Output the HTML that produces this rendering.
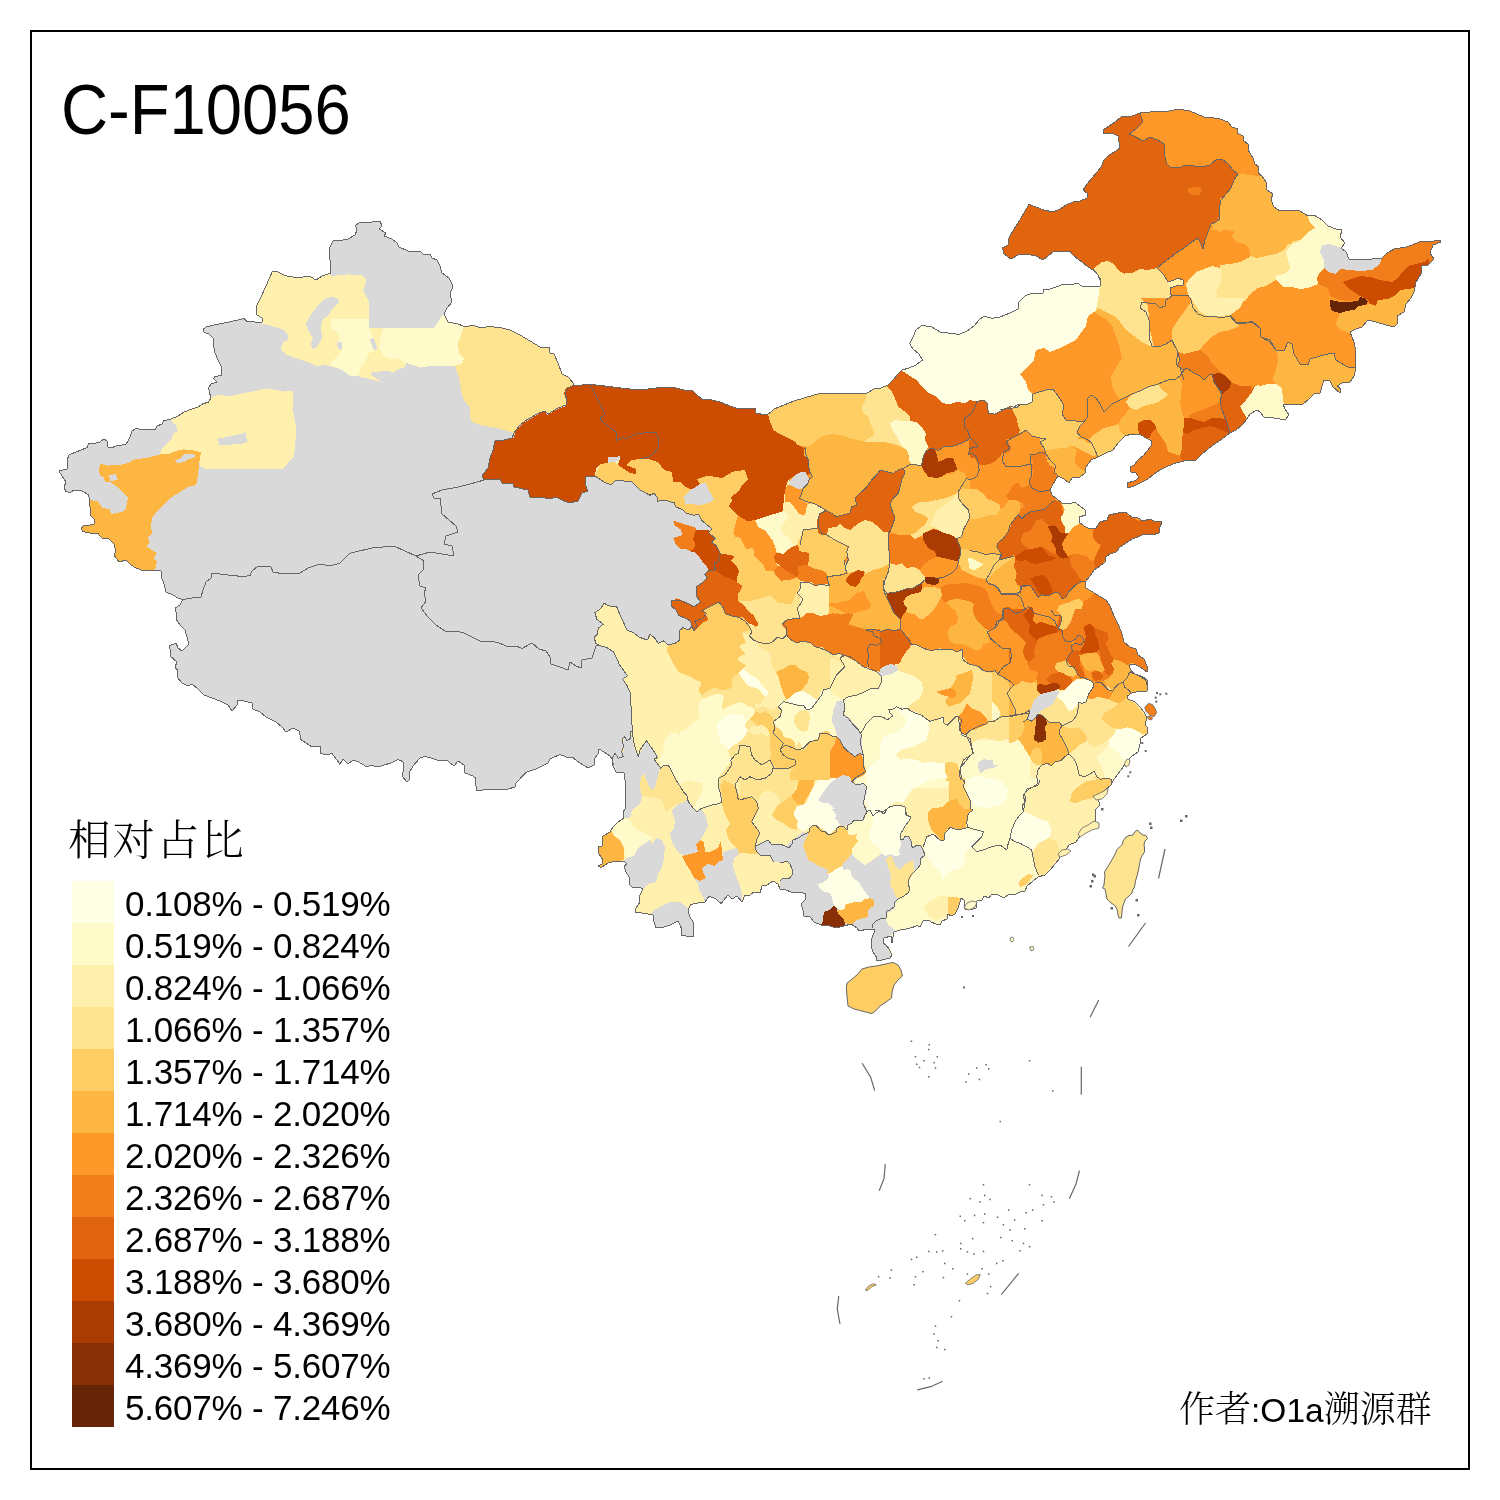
<!DOCTYPE html>
<html lang="zh-CN">
<head>
<meta charset="utf-8">
<title>C-F10056</title>
<style>
html,body{margin:0;padding:0;background:#fff;}
body{width:1500px;height:1500px;overflow:hidden;position:relative;font-family:"Liberation Sans","Noto Sans CJK SC",sans-serif;color:#000;}
#frame{position:absolute;left:30px;top:30px;width:1436px;height:1436px;border:2px solid #000;}
#map{position:absolute;left:0;top:0;width:1500px;height:1500px;}
#title{position:absolute;left:61px;top:70px;font-size:71px;line-height:80px;white-space:nowrap;transform:scaleX(0.918);transform-origin:0 0;}
#legend-title{position:absolute;left:68px;top:814px;font-family:"Liberation Serif","Noto Serif CJK SC",serif;font-size:42.5px;line-height:54px;white-space:nowrap;font-weight:300;letter-spacing:1.9px;}
.sw{position:absolute;left:72px;width:42px;height:42px;}
.lb{position:absolute;left:125px;font-size:35px;line-height:42px;height:42px;white-space:nowrap;letter-spacing:-0.2px;}
#credit{position:absolute;left:1179px;top:1386px;font-size:33.5px;line-height:48px;white-space:nowrap;}
#credit .cj{font-family:"Liberation Serif","Noto Serif CJK SC",serif;font-size:36px;font-weight:300;}
</style>
</head>
<body>
<svg id="map" width="1500" height="1500" viewBox="0 0 1500 1500">
<defs><clipPath id="cn"><polygon points="59,471 62,476 66,482 64,487 65.6,491 70,493 73,490.6 82,491 88,494.4 89.6,499 89,504 91,510 90,515 95,520 94,524.4 83,526 81,529 83,531.6 90,533 98,533.6 102,538 109,539 114,544 116,551 114,555 119,562 126,560 131,565 136,568 144,571 154,570.6 161,570.6 161,576 164,584 166,592 173,595 178,598 183,599.6 180,605 175,608 176.6,614 176,619 180,625 185,630 187,637 189,644 182,651 178,648 176,643 169,646 171,652 170,656 177,662 175,667 178,671 177,677 182,683 188,686 192,684 198,689 204,695 212,698 220,701 228,705 232,711 237,705 238,700 244,701 252,703 253,709 260,712 266,717 276,722 282,727 286,732 293,728 299,731 301,739 300,739 306,743 312,747 320,746 320,753 326,755 332,753.6 337,760 340,764.4 343,759 348,764 353,760 358,761.6 366,766.4 372,765.6 378,767 384,765 391,763 398,759.6 403,761.6 404,768 402,776 407,782 410,779 409.6,772 413,766 420,758 425,756.4 432,758.4 440,761 447,760.4 454,766 458,761 464,765 465,773 472,775.6 476,778 475.6,784 477,791 486,789.6 496,790 506,789.6 515,787 516,783 526,772.4 536,769 548,763 550,759 560,754.4 566,757 572,757 580,763 588,768 594,765 595,758 598,754 599,749 604,752 610,756 613,760 612,764 616,772 624,773 625.6,784 626,798 625,809 623,812 624,818 618,822 613,827 610,832 603,836 602,846 598,847 599,854 603,860 602,864 598.6,866 601,867.6 608,863 616,861 624,861 627,864 624,866 626,872 629,877 629,884 632,887 639,887 643,889 639,897 640,902 636,908 635,912 646,913.6 653,915 654,922 656,928 664,927 670,925 678,921 680,925 682,930 681,935 686,936 693,937 694,930 693,922 690,917 688,910 691,904.4 698,903 705,902 709,896 716,899 721,903.6 728,895 732,899 737,896 742,902 745,895 750,895 754,892 760,893 762,886 767,885 773,881 778,884 780,889 786,890 792,892.4 800,892 806,894 805,900 801,904 803,910 804,916 810,917 814,922 821,925 830,926 836,928 844,926 851,924 857,928 859,931 868,929 875,930 872,938 871,946 873,952 877,958 876,961 882,960 890,958 892,955 889,949 886,945 883,943 884,938 891,936 892,943 894,932 900,930 906,929 912,927.6 917,925.6 920,927 923,921 928,920 932,922.4 936,924 940,925 942,921 947,919 948,914 951,916 955,914 958,908 960,902 961,898 964,900 965,909 970,910 976,908 977,901 982,900 984,896 989,898 992,894 998,895 1004,898 1009,894 1014,895 1020,892 1025,891 1027,886 1033,881 1038,877 1045,875 1050,870 1055,864 1060,858 1059,853 1066,850 1069,845 1076,842 1080,836 1086,832 1088,828 1095,825 1096,819 1095,810 1100,805 1098,799 1094,797 1102,794 1106,789 1111,785 1114,779 1118,774 1123,767 1128,760 1132,756 1138,752 1140,744 1141,738 1147,734 1148,729 1145,724 1147,718 1144,712 1140,707 1135,702 1128,699 1127,696 1132,693 1140,691 1147,691 1148,685 1147,680 1143,677 1138,675 1132,673 1129,665 1134,664 1140,667 1147,672 1147,666 1144,659 1138,655 1136,649 1130,647 1124,642 1122,634 1119,626 1114,616 1110,606 1106,600 1096,594 1086,588 1085,582 1090,576 1094,570 1100,566 1105,562 1106,557 1110,554 1116,552 1120,547 1126,543 1132,539 1138,537 1144,534 1152,535 1159,533 1160,527 1162,522 1154,521 1150,519 1143,521 1138,518 1132,517 1125,512 1118,513 1109,515 1107,520 1100,522 1096,528 1090,529 1084,526 1079,522 1079,517 1086,515 1085,510 1080,506 1075,502.4 1068,504 1062,503 1057,499 1052,495 1050,490 1053,484 1058,476 1064,479 1069,483 1072,478 1080,477 1085,473 1086,467 1091,460 1098,457 1106,453 1113,450 1118,443 1125,436 1132,434 1140,434.4 1146,438 1152,441 1151,446 1147,451 1144,455 1138,460 1134,465 1130,467 1131,472 1136,473 1139,478 1134,481 1127,483 1128,488 1134,486 1142,482 1148,479 1154,474 1160,470 1168,466 1176,463 1184,461 1196,460 1202,454 1208,449 1216,443 1222,439 1230,433 1236,430 1242,425 1247,419 1250,414 1257,410 1260,412 1264,417 1272,417.6 1280,419 1285,420 1289,415 1285,409 1283,404 1292,404 1303,404 1309,399 1314,394 1320,393 1324,380 1330,381 1333,387 1340,393 1341,389 1337,386 1342,383 1350,382 1354,376 1356,368 1355,360 1356,352 1354,342 1350,332 1356,329 1362,327 1368,320 1376,322 1386,325 1394,327 1397,324 1397,316 1404,312 1406,304 1411,298 1414,292 1416,282 1421,274 1422,266 1428,265 1434,259 1430,253 1433,245 1441,242 1440,240 1430,241.6 1420,241.6 1412,245 1404,247.6 1395,248.6 1387,253 1382,258 1372,259 1362,259.6 1349,259 1346,252 1341,248 1345,243 1340,237 1342,230 1336,229 1328,226 1322,220 1314,215 1308,216 1300,211 1290,210 1280,211 1274,207 1273,205 1271,199 1273,194 1267,190 1266,182 1262,176 1258,173 1259,167 1255,164 1253,158 1248,150 1248,144 1244,141 1243,136 1237,133 1238,129 1232,127 1228,122 1220,119 1212,117.6 1204,117 1197,114 1190,111 1182,109.6 1174,110 1166,111.6 1158,111 1150,112 1140,113 1132,116 1121,117 1115,122 1109,126 1103.6,129.6 1104,134 1112,133 1118,136 1119,142 1120,148 1116,151 1109,155 1104,160 1101,167 1097,172 1092,178 1087,184 1083,190 1087,193 1087,198 1080,201 1073,202 1066,205 1060,209 1053,212 1044,210 1036,207 1029,204.4 1025,211 1020,220 1014,229 1009,238 1008,245 1002.4,248 1004,254 1011,259 1018,255 1026,254 1036,256 1043,260 1048,256 1054,251 1062,251 1070,251.6 1074,256 1082,262 1088,267 1093,270 1098,275 1100,280 1100,286 1088,287 1082,286 1077,283 1071,285 1064,284 1056,287 1050,289 1044,289 1043,293 1032,293 1025,296 1019,302 1018,309 1010,313 1000,317 992,318.4 984,316 979,320 974,326 967,331 959,334.4 948,333 940,332 932,327 922,325.4 916,330 913,337 909.6,343.6 913,349 919,354 922.4,360 916,365 909,368 902,370 898,374 893,380 888,385 881,388 874,389 867,393 859,394 846,393.6 834,393.6 820,393.4 814,395 804,398 794,401 784,405 774,409 769,413.6 765,415 756,413 755.6,408 750,408 739,409 730,406 720,402 712,400 702,399 698,396 693,391 684,390 674,387.6 660,387.6 648,389 636,389.6 624,388.4 608,386.4 590,384.4 574,385.6 572.4,382 568,377 562,374 558,363 554,354 549.6,353 550,347 540,347 530,341 520,335 510,330 500,327.6 490,326.6 480,327.6 474,325.6 464,326.4 458,324 448,322 444,314 447,308 452,302 450,294 453,286 449,278 442,273 440,266 437,260 432,258 430,254 424,255 420,251 414,251 408,251 399,247 397,243 392,239 384,236 386,233 379,229 382,226 380,221 372,222 360,222 355.6,225.6 357,230 355,235 347,239.6 333,241 329,249 330,260 331,273 322,276 316,280 310,276.4 296,277.6 285,275.6 278,272 272.4,271.4 266,286 260,299 257,305 256,314.4 262,318 263,321 261,323 255,322 247,321.4 244,318.4 238,320 227,322.4 214,325 206,327 203,329.6 203.6,332 209,334 213,338 213.6,346 215,353 218,360 221,366 222,375 215,376.6 213.6,378.6 217,382 211,384 208.6,388 209.6,393 211,398 208,402.4 203,403.6 198,407 192,409 184,412 178,416 170,419.4 164,420.6 162,424 157,426 155,429.6 148,430 142,429.4 136,428.6 132,431 130,437 126,444.4 122,445 117,445.6 111,448 108,447 107,441 104,439 100,442 93,443.6 89,443 87,447.6 81,450 75,452.4 69,455 67,460 68,464 67,469"/></clipPath></defs>
<polygon points="59,471 62,476 66,482 64,487 65.6,491 70,493 73,490.6 82,491 88,494.4 89.6,499 89,504 91,510 90,515 95,520 94,524.4 83,526 81,529 83,531.6 90,533 98,533.6 102,538 109,539 114,544 116,551 114,555 119,562 126,560 131,565 136,568 144,571 154,570.6 161,570.6 161,576 164,584 166,592 173,595 178,598 183,599.6 180,605 175,608 176.6,614 176,619 180,625 185,630 187,637 189,644 182,651 178,648 176,643 169,646 171,652 170,656 177,662 175,667 178,671 177,677 182,683 188,686 192,684 198,689 204,695 212,698 220,701 228,705 232,711 237,705 238,700 244,701 252,703 253,709 260,712 266,717 276,722 282,727 286,732 293,728 299,731 301,739 300,739 306,743 312,747 320,746 320,753 326,755 332,753.6 337,760 340,764.4 343,759 348,764 353,760 358,761.6 366,766.4 372,765.6 378,767 384,765 391,763 398,759.6 403,761.6 404,768 402,776 407,782 410,779 409.6,772 413,766 420,758 425,756.4 432,758.4 440,761 447,760.4 454,766 458,761 464,765 465,773 472,775.6 476,778 475.6,784 477,791 486,789.6 496,790 506,789.6 515,787 516,783 526,772.4 536,769 548,763 550,759 560,754.4 566,757 572,757 580,763 588,768 594,765 595,758 598,754 599,749 604,752 610,756 613,760 612,764 616,772 624,773 625.6,784 626,798 625,809 623,812 624,818 618,822 613,827 610,832 603,836 602,846 598,847 599,854 603,860 602,864 598.6,866 601,867.6 608,863 616,861 624,861 627,864 624,866 626,872 629,877 629,884 632,887 639,887 643,889 639,897 640,902 636,908 635,912 646,913.6 653,915 654,922 656,928 664,927 670,925 678,921 680,925 682,930 681,935 686,936 693,937 694,930 693,922 690,917 688,910 691,904.4 698,903 705,902 709,896 716,899 721,903.6 728,895 732,899 737,896 742,902 745,895 750,895 754,892 760,893 762,886 767,885 773,881 778,884 780,889 786,890 792,892.4 800,892 806,894 805,900 801,904 803,910 804,916 810,917 814,922 821,925 830,926 836,928 844,926 851,924 857,928 859,931 868,929 875,930 872,938 871,946 873,952 877,958 876,961 882,960 890,958 892,955 889,949 886,945 883,943 884,938 891,936 892,943 894,932 900,930 906,929 912,927.6 917,925.6 920,927 923,921 928,920 932,922.4 936,924 940,925 942,921 947,919 948,914 951,916 955,914 958,908 960,902 961,898 964,900 965,909 970,910 976,908 977,901 982,900 984,896 989,898 992,894 998,895 1004,898 1009,894 1014,895 1020,892 1025,891 1027,886 1033,881 1038,877 1045,875 1050,870 1055,864 1060,858 1059,853 1066,850 1069,845 1076,842 1080,836 1086,832 1088,828 1095,825 1096,819 1095,810 1100,805 1098,799 1094,797 1102,794 1106,789 1111,785 1114,779 1118,774 1123,767 1128,760 1132,756 1138,752 1140,744 1141,738 1147,734 1148,729 1145,724 1147,718 1144,712 1140,707 1135,702 1128,699 1127,696 1132,693 1140,691 1147,691 1148,685 1147,680 1143,677 1138,675 1132,673 1129,665 1134,664 1140,667 1147,672 1147,666 1144,659 1138,655 1136,649 1130,647 1124,642 1122,634 1119,626 1114,616 1110,606 1106,600 1096,594 1086,588 1085,582 1090,576 1094,570 1100,566 1105,562 1106,557 1110,554 1116,552 1120,547 1126,543 1132,539 1138,537 1144,534 1152,535 1159,533 1160,527 1162,522 1154,521 1150,519 1143,521 1138,518 1132,517 1125,512 1118,513 1109,515 1107,520 1100,522 1096,528 1090,529 1084,526 1079,522 1079,517 1086,515 1085,510 1080,506 1075,502.4 1068,504 1062,503 1057,499 1052,495 1050,490 1053,484 1058,476 1064,479 1069,483 1072,478 1080,477 1085,473 1086,467 1091,460 1098,457 1106,453 1113,450 1118,443 1125,436 1132,434 1140,434.4 1146,438 1152,441 1151,446 1147,451 1144,455 1138,460 1134,465 1130,467 1131,472 1136,473 1139,478 1134,481 1127,483 1128,488 1134,486 1142,482 1148,479 1154,474 1160,470 1168,466 1176,463 1184,461 1196,460 1202,454 1208,449 1216,443 1222,439 1230,433 1236,430 1242,425 1247,419 1250,414 1257,410 1260,412 1264,417 1272,417.6 1280,419 1285,420 1289,415 1285,409 1283,404 1292,404 1303,404 1309,399 1314,394 1320,393 1324,380 1330,381 1333,387 1340,393 1341,389 1337,386 1342,383 1350,382 1354,376 1356,368 1355,360 1356,352 1354,342 1350,332 1356,329 1362,327 1368,320 1376,322 1386,325 1394,327 1397,324 1397,316 1404,312 1406,304 1411,298 1414,292 1416,282 1421,274 1422,266 1428,265 1434,259 1430,253 1433,245 1441,242 1440,240 1430,241.6 1420,241.6 1412,245 1404,247.6 1395,248.6 1387,253 1382,258 1372,259 1362,259.6 1349,259 1346,252 1341,248 1345,243 1340,237 1342,230 1336,229 1328,226 1322,220 1314,215 1308,216 1300,211 1290,210 1280,211 1274,207 1273,205 1271,199 1273,194 1267,190 1266,182 1262,176 1258,173 1259,167 1255,164 1253,158 1248,150 1248,144 1244,141 1243,136 1237,133 1238,129 1232,127 1228,122 1220,119 1212,117.6 1204,117 1197,114 1190,111 1182,109.6 1174,110 1166,111.6 1158,111 1150,112 1140,113 1132,116 1121,117 1115,122 1109,126 1103.6,129.6 1104,134 1112,133 1118,136 1119,142 1120,148 1116,151 1109,155 1104,160 1101,167 1097,172 1092,178 1087,184 1083,190 1087,193 1087,198 1080,201 1073,202 1066,205 1060,209 1053,212 1044,210 1036,207 1029,204.4 1025,211 1020,220 1014,229 1009,238 1008,245 1002.4,248 1004,254 1011,259 1018,255 1026,254 1036,256 1043,260 1048,256 1054,251 1062,251 1070,251.6 1074,256 1082,262 1088,267 1093,270 1098,275 1100,280 1100,286 1088,287 1082,286 1077,283 1071,285 1064,284 1056,287 1050,289 1044,289 1043,293 1032,293 1025,296 1019,302 1018,309 1010,313 1000,317 992,318.4 984,316 979,320 974,326 967,331 959,334.4 948,333 940,332 932,327 922,325.4 916,330 913,337 909.6,343.6 913,349 919,354 922.4,360 916,365 909,368 902,370 898,374 893,380 888,385 881,388 874,389 867,393 859,394 846,393.6 834,393.6 820,393.4 814,395 804,398 794,401 784,405 774,409 769,413.6 765,415 756,413 755.6,408 750,408 739,409 730,406 720,402 712,400 702,399 698,396 693,391 684,390 674,387.6 660,387.6 648,389 636,389.6 624,388.4 608,386.4 590,384.4 574,385.6 572.4,382 568,377 562,374 558,363 554,354 549.6,353 550,347 540,347 530,341 520,335 510,330 500,327.6 490,326.6 480,327.6 474,325.6 464,326.4 458,324 448,322 444,314 447,308 452,302 450,294 453,286 449,278 442,273 440,266 437,260 432,258 430,254 424,255 420,251 414,251 408,251 399,247 397,243 392,239 384,236 386,233 379,229 382,226 380,221 372,222 360,222 355.6,225.6 357,230 355,235 347,239.6 333,241 329,249 330,260 331,273 322,276 316,280 310,276.4 296,277.6 285,275.6 278,272 272.4,271.4 266,286 260,299 257,305 256,314.4 262,318 263,321 261,323 255,322 247,321.4 244,318.4 238,320 227,322.4 214,325 206,327 203,329.6 203.6,332 209,334 213,338 213.6,346 215,353 218,360 221,366 222,375 215,376.6 213.6,378.6 217,382 211,384 208.6,388 209.6,393 211,398 208,402.4 203,403.6 198,407 192,409 184,412 178,416 170,419.4 164,420.6 162,424 157,426 155,429.6 148,430 142,429.4 136,428.6 132,431 130,437 126,444.4 122,445 117,445.6 111,448 108,447 107,441 104,439 100,442 93,443.6 89,443 87,447.6 81,450 75,452.4 69,455 67,460 68,464 67,469" fill="#D9D9D9"/>
<g clip-path="url(#cn)" shape-rendering="crispEdges">
<polygon points="595,476 604,482 611,485 616,480 624,481 632,482 640,490 650,495.3 654,493.3 657.3,497.3 657.3,501.3 664.7,500 671.3,502 674.7,502.7 675.3,506.7 683.3,510 686,513.3 694,515.3 698.7,514 701.3,520 706,524 712,528.7 708.7,532.7 715.3,538.7 711.3,542 716.7,546 719.3,552 720.7,554 718.7,556.7 719.3,560.7 714,563.3 715.3,570 708.7,570.7 704.7,574 707.3,578 702,583.3 696.7,586 696.7,596.7 700.7,602 694,606.7 687.3,603.3 678,600 671.3,600.7 671.3,606 676,610 678.7,615.3 684.7,618 690,620.7 694,630.7 695,630.8 691.7,626.7 688.3,630 683.3,627.5 679.2,630.8 680,640 675,643.3 668.3,645 663.3,640.8 658.3,643.3 654.2,637.5 650,634.2 647.5,640 640,637.5 633.3,632.5 626.7,630 623.3,621.7 620,615 616.7,606.7 608.3,605.8 604.2,603.3 600,609.2 595,612.5 596.7,619.2 603.3,624.2 598.3,628.3 597.5,634.2 594.2,637.5 595.8,643.3 600,645.8 606.7,647.5 613.3,651.7 616.7,658.3 619.2,664.2 623.3,670 627.5,675.8 622.5,679.2 626.7,685 630,691.7 630,700 631.7,710 631.7,720 632.5,731.7 630,731.7 630.8,738.3 626.7,740.8 625,736.7 622.5,738.3 623.3,746.7 621.7,751.7 623.3,756.7 618.3,758.3 615,753.3 612.5,758.3 613.3,765 560,780 560,1100 1500,1100 1500,50 900,50 900,380 760,400 700,420 600,440" fill="#FFF0AE"/>
<polygon points="780,380 900,300 1000,200 1100,80 1500,80 1500,560 1160,560 1160,660 1100,690 1000,680 950,660 900,640 850,630 820,600 800,520 780,450" fill="#FE9929"/>
<polygon points="695,630.8 691.7,626.7 688.3,630 683.3,627.5 679.2,630.8 680,640 675,643.3 668.3,645 663.3,640.8 658.3,643.3 654.2,637.5 650,634.2 647.5,640 640,637.5 633.3,632.5 626.7,630 623.3,621.7 620,615 616.7,606.7 608.3,605.8 604.2,603.3 600,609.2 595,612.5 596.7,619.2 603.3,624.2 598.3,628.3 597.5,634.2 594.2,637.5 595.8,643.3 600,645.8 606.7,647.5 613.3,651.7 616.7,658.3 619.2,664.2 623.3,670 627.5,675.8 622.5,679.2 626.7,685 630,691.7 630,700 631.7,710 631.7,720 632.5,731.7 633.3,740 635,746.7 638.3,756.7 640,750 643.3,745 646.7,740.8 650,745.8 654.2,751.7 657.5,757.5 654.2,759.2 658.3,765 660.8,768.3 663.3,765.8 668.3,765 671.7,771.7 675,778.3 679.2,785 683.3,791.7 686.7,795 688.3,801.7 693.3,808.3 696.7,811.7 701.7,808.3 706.7,806.7 711.7,805 716.7,804.2 721.7,802.5 733.3,800 750,783.3 766.7,750 775,700 766.7,650 733.3,633.3" fill="#FFF0AE"/>
<polygon points="902,370 910,374 918,380 924,388 930,392 938,398 946,404 952,402 960,403 968,404 970,400 980,398 988,402 989,412 996,414 1006,408 1010,406 1016,412 1022,406 1030,404 1032,398 1034,392 1044,390 1050,390 1050,280 990,300 910,320" fill="#FFFFE5"/>
<polygon points="252,312 262,323.6 270,325.6 282,329 288,334 288,340 283,342 281,349 285,354 295,358 308,362 317,366.4 324,365 334,367 342,370 350,375.6 357,376 370,379 382,382.4 370,374 372,372 388,371 394,373 396,370 405,367 406,363 396,358 390,359 384,356 379,348 380,340 383,328 369,328 369,319 369,302 363,290 365,286 366,280 362,275 348,274.4 331,276 328,268 272,266" fill="#FFF0AE"/>
<polygon points="331,319 369,319 369,328 373,338 375,344 377,350 369,353 366,360 361,366 359,374 357,376 350,375.6 342,370 330,365 333,360 339,354 342,350 342,343 337,343 340,338 336,331 331,328" fill="#FFFACA"/>
<polygon points="383,328 434,327.6 438,322 443,314 448,321 458,323 465,326 460,338 458,344 459,354 464,359 462,364 455,365.6 432,365.6 420,367.6 406,363 396,358 390,359 384,356 379,348 380,340" fill="#FFFACA"/>
<polygon points="310,316 316,308 323,300 330,297 338,298 339,303 332,309 329,315 322,320 321,328 322,338 317,347 312,349 311,343 313,338 308,330 306,324" fill="#D9D9D9"/>
<polygon points="370,339 374,338 377,348 375,351 372,346" fill="#D9D9D9"/>
<polygon points="337,342.4 342,342.4 342,349.6 338,349" fill="#D9D9D9"/>
<polygon points="464,327 474,320 490,322 510,326 530,337 552,343 562,360 566,374 576,384 573,385.6 566,390 565,395 567,400 566,405 558,408 548,414 545,411 539,413 528,419 520,425 514,433 500,429 490,427 480,425 472,422 470,416 470,408 464,400 461,392 460,382 458,374 455,365.6 462,364 464,359 459,354 458,344 460,338" fill="#FEE391"/>
<polygon points="170,419.4 178,414 192,407 208,400 212,397 218,395 230,396 240,394 252,391.6 266,388.4 276,390 285,391.6 293,391 293.6,400 292.4,410 295,420 296,430 295.6,440 294,456 288,463 282,469 206,469 200,466 199,460 201,452.4 192,450 184,449.4 176,451 168,454.4 160,454 162,448 168,443 172,438 173,434 178,431 176,426" fill="#FFF0AE"/>
<polygon points="217,439 224,437.4 232,436 240,434 246,432 246,437 248,442 240,444 226,445 218,445.6 219,442" fill="#D9D9D9"/>
<polygon points="100,464 108,465.6 120,465 128,463 134,459.6 148,457.6 160,454.4 168,454.4 176,451 184,449.4 192,450 201,452.4 199,464 198,476 196,485 188,487 180,492 172,497 164,504 158,510 152,518 151,526 152,533 148,538 150,543 146,546 152,550 157,553 154,558 157,562 155,570.6 155,578 120,576 80,540 76,526 88,500 98,501 102,508 110,509 111,514 122,512 126,508 128,497 122,492 116,486 110,482 105,482 104,477 100,476 99,470" fill="#FEB642"/>
<polygon points="109,475 116,474 118,480 110,481" fill="#D9D9D9"/>
<polygon points="174,460 180,459 184,454 194,453.6 195,457 189,459 184,462 178,463" fill="#D9D9D9"/>
<polygon points="573,385.6 590,380 680,376 766,400 770,412 770,420 773,428 779,434 788,437 795,442 800,446 812,452 812,474 794,476 788,480 786,487 784,496 783,511 776,515 768,517 758,519.6 748,522 740,517 734,512 729,506 732,501 731,497 738,492 743,484 748,479 745,470 733,471.6 722,478 708,475.6 697,479 700,484 693,490 686,487 680,482 673,482 672,472 664,470 658,462 648,459 640,459 631,460 626,465 636,469 636,474 630,473 624,469 618,465 620,458 614,456.4 609,458 608,463 600,464 596,469 595,476 586,477 585,484 588,491 582,493 578,501 569,503 562,500 556,497 550,499 540,497 530,497 528,490 514,487 513,484 502,483 500,479 484,480 482,476 488,468 490,458 493,450 495,441 504,440 512,438 514,438 515,432 522,424 532,418 540,413 545,411 547,415 558,409 566,406 567,400 564,394 566,388" fill="#CC4C02"/>
<polygon points="608,457 620,456.4 619,460 614,462.4 608,463" fill="#D9D9D9"/>
<polygon points="595,476 600,464 608,463 614,462 618,465 624,469 630,473 636,474 636,469 626,465 631,460 640,459 648,459 658,462 664,470 672,472 673,482 680,482 686,487 693,490 700,484 697,479 708,475.6 722,478 733,471.6 745,470 748,479 743,484 738,492 731,497 732,501 729,506 734,512 740,517 738,515.3 736.7,519.3 734.7,527.3 733.3,532.7 735.3,536.7 740.7,538 743.3,543.3 746,549.3 753.3,548 754,555.3 759.3,560.7 763.3,564.7 766,571.3 773.3,570.7 776,576 780.7,580.7 790,580 796.7,577.3 800,581.3 799.3,588.7 796,594 791.3,604.7 783.3,603.3 778,603.3 775.3,599.3 770,595.3 762,598 751.3,600.7 743.3,600.7 737.3,600.7 738,594 740.7,590 742.7,586 736.7,582 737.3,576.7 739.3,571.3 736.7,566 731.3,560.7 734.7,556.7 730,554.7 720.7,554 719.3,552 716.7,546 711.3,542 715.3,538.7 708.7,532.7 712,528.7 706,524 701.3,520 698.7,514 694,515.3 686,513.3 683.3,510 675.3,506.7 674.7,502.7 671.3,502 664.7,500 657.3,501.3 657.3,497.3 654,493.3 650,495.3 640,490 632,482 624,481 616,480 611,485 604,482" fill="#FECE65"/>
<polygon points="683.3,497.3 688.7,491.3 700,484 706,482.7 708,488.7 711.3,494.7 714,499.3 709.3,502.7 700,505.3 691.3,504 684.7,504.7 685.3,500.7" fill="#D9D9D9"/>
<polygon points="788.7,484.7 790,480 795.3,475.3 800.7,472 805.3,472 808.7,478 809.3,481.3 806,484.7 802,490 796.7,487.3 791.3,485.3" fill="#D9D9D9"/>
<polygon points="673.3,520.7 683.3,524 695.3,527.3 696,530 694,535.3 693.3,539.3 695.3,543.3 694,548.7 690,551.3 686,548.7 680.7,549.3 675.3,543.3 673.3,538 682,535.3 681.3,530 674,524.7" fill="#F27E1B"/>
<polygon points="696,530 708.7,530 708.7,532.7 715.3,538.7 711.3,542 716.7,546 719.3,552 720.7,554 718.7,556.7 719.3,560.7 714,563.3 715.3,570 708.7,570.7 707.3,567.3 703.3,562.7 699.3,556.7 695.3,552.7 690,551.3 694,548.7 695.3,543.3 693.3,539.3 694,535.3" fill="#CC4C02"/>
<polygon points="720.7,554 730,554.7 734.7,556.7 731.3,560.7 736.7,566 739.3,571.3 737.3,576.7 736.7,582 730,578.7 724.7,576.7 719.3,573.3 715.3,570 714,563.3 719.3,560.7 718.7,556.7" fill="#CC4C02"/>
<polygon points="708.7,570.7 715.3,570 719.3,573.3 724.7,576.7 730,578.7 736.7,582 742.7,586 740.7,590 738,594 737.3,600.7 743.3,604.7 748.7,611.3 754,618 758.7,624 755.3,627.3 748.7,620.7 743.3,616.7 734,616.7 724.7,613.3 723.3,606 719.3,602 708.7,607.3 702,610.7 704.7,615.3 708.7,620 706,624.7 698,628.7 694,630.7 690,620.7 684.7,618 678.7,615.3 676,610 671.3,606 671.3,600.7 678,600 687.3,603.3 694,606.7 700.7,602 696.7,596.7 696.7,586 702,583.3 707.3,578 704.7,574" fill="#E1640E"/>
<polygon points="738,515.3 747.3,521.3 755.3,520 758,527.3 764.7,530 768.7,535.3 772.7,540.7 775.3,547.3 776.7,552.7 774,556.7 775.3,562 778,566 776,568.7 773.3,570.7 766,571.3 763.3,564.7 759.3,560.7 754,555.3 753.3,548 746,549.3 743.3,543.3 740.7,538 735.3,536.7 733.3,532.7 734.7,527.3 736.7,519.3" fill="#FE9929"/>
<polygon points="755.3,520 767.3,516 783.3,511.3 783.3,503.3 787.3,500.7 791.3,503.3 795.3,508.7 799.3,514 804.7,515.3 806,510 807.3,504.7 814,502.7 820.7,507.3 824.7,510 819.3,514 816.7,520.7 818,528.7 810,529.3 802.7,530 800.7,536.7 798,542 794,546 787.3,550 783.3,554 778,551.3 775.3,547.3 772.7,540.7 768.7,535.3 764.7,530 758,527.3" fill="#FFF0AE"/>
<polygon points="755.3,520 767.3,516 783.3,511.3 788.7,516.7 784.7,522 780.7,527.3 783.3,534 788.7,536.7 791.3,542 794,546 787.3,550 783.3,554 778,551.3 775.3,547.3 772.7,540.7 768.7,535.3 764.7,530 758,527.3" fill="#FFFACA"/>
<polygon points="787.3,485.3 791.3,485.3 796.7,487.3 802,490 799.3,496.7 803.3,500.7 806,506 804.7,515.3 799.3,514 795.3,508.7 791.3,503.3 787.3,500.7 784.7,496.7 786,492.7 784.7,490" fill="#FE9929"/>
<polygon points="774,556.7 776.7,552.7 783.3,554 787.3,550 794,546 798,544.7 799.3,551.3 808.7,552.7 809.3,558 808,564.7 798,566 798.7,574 796.7,577.3 790,572.7 784.7,570 780.7,566 775.3,562" fill="#E1640E"/>
<polygon points="804.7,447.3 858,447.3 858,514 850,514 842,515.3 835.3,516.7 827.3,511.3 820.7,507.3 814,502.7 807.3,504.7 800.7,499.3 799.3,496.7 802,490 806,484.7 809.3,481.3 812.7,478.7 812,474.7 808.7,467.3 807.3,459.3 804,455.3" fill="#FEB642"/>
<polygon points="824.7,510 827.3,511.3 835.3,516.7 842,515.3 850,514 850,528.7 844.7,527.3 840.7,522.7 836.7,526 831.3,527.3 827.3,528.7 826,534 822,535.3 818,532.7 816.7,524.7 816.7,520.7 819.3,514" fill="#E1640E"/>
<polygon points="827.3,528.7 831.3,527.3 836.7,526 840.7,522.7 844.7,527.3 850,528.7 850,548.7 846,546 839.3,542 834,540.7 830,538 826,534" fill="#FEE391"/>
<polygon points="802.7,530 810,529.3 818,528.7 818,532.7 822,535.3 826,534 830,538 834,540.7 839.3,542 846,546 848.7,552.7 844.7,559.3 847.3,568.7 844.7,575.3 836.7,576.7 827.3,576 826,572.7 820.7,570 814,568.7 808.7,566 808,564.7 809.3,558 808.7,552.7 799.3,551.3 798,544.7 798,542 800.7,536.7" fill="#FECE65"/>
<polygon points="776,568.7 778,566 780.7,566 784.7,570 790,572.7 796.7,577.3 798.7,574 798,566 808,564.7 808.7,566 814,568.7 820.7,570 826,572.7 827.3,576 828.7,583.3 822,584.7 815.3,586 811.3,582 800.7,581.3 796.7,577.3 790,580 780.7,580.7 776,576 773.3,570.7" fill="#F27E1B"/>
<polygon points="800.7,581.3 811.3,582 815.3,586 822,584.7 828.7,583.3 832.7,590 832.7,600.7 828.7,610 824.7,616.7 820.7,618 814,614 807.3,612.7 802,618 798,611.3 799.3,604.7 800.7,596.7 796,594 799.3,588.7" fill="#FFF0AE"/>
<polygon points="743.3,600.7 751.3,600.7 762,598 770,595.3 775.3,599.3 778,603.3 783.3,603.3 791.3,604.7 796,594 800.7,596.7 799.3,604.7 798,611.3 802,618 798,618.7 790,619.3 783.3,623.3 782,626 786,630 787.3,636.7 776.7,636.7 774,642 766,643.3 758,642 752.7,639.3 750,634 751.3,628.7 748.7,624.7 755.3,627.3 758.7,624 754,618 748.7,611.3 743.3,604.7 737.3,600.7" fill="#FEE391"/>
<polygon points="666.7,650 668.3,645 675,643.3 680,640 679.2,630.8 683.3,627.5 688.3,630 691.7,626.7 695,630.8 701.7,623.3 708.3,620 703.3,610 710,606.7 718.3,601.7 723.3,608.3 726.7,615 733.3,616.7 741.7,616.7 748.3,623.3 751.7,631.7 750,635 743.3,633.3 741.7,641.7 746.7,648.3 743.3,655 738.3,658.3 741.7,666.7 738.3,671.7 733.3,676.7 731.7,685 723.3,691.7 716.7,688.3 708.3,690.8 700,695 701.7,688.3 696.7,681.7 688.3,676.7 678.3,671.7 673.3,663.3" fill="#FECE65"/>
<polygon points="670.8,602.5 676.7,598.3 685,601.7 691.7,606.7 698.3,605.8 705,603.3 710,606.7 703.3,610 708.3,620 701.7,623.3 695,630.8 693.3,625 696.7,620 691.7,616.7 685,615.8 680,611.7 675,608.3" fill="#E1640E"/>
<polygon points="718.3,601.7 723.3,608.3 726.7,615 733.3,616.7 741.7,616.7 748.3,623.3 758.3,626.7 756.7,621.7 753.3,615 746.7,610 741.7,605 736.7,598.3 718.3,598.3" fill="#E1640E"/>
<polygon points="665,738.3 671.7,733.3 678.3,733.3 683.3,746.7 688.3,751.7 691.7,746.7 698.3,743.3 701.7,736.7 710,731.7 716.7,723.3 718.3,716.7 723.3,710 726.7,703.3 733.3,701.7 741.7,703.3 750,706.7 753.3,711.7 750,720 755,726.7 746.7,731.7 741.7,738.3 740,745 738.3,753.3 733.3,758.3 730.8,761.7 731.7,765 728.3,770 725,775 718.3,778.3 718.3,786.7 720.8,795 721.7,802.5 716.7,804.2 711.7,805 706.7,806.7 701.7,808.3 696.7,811.7 693.3,808.3 696.7,801.7 700,795 703.3,788.3 702.5,783.3 695,781.7 688.3,780 681.7,783.3 679.2,785 675,778.3 671.7,771.7 668.3,765 663.3,765.8 660.8,768.3 658.3,760 661.7,755 663.3,748.3" fill="#FFFACA"/>
<polygon points="718.3,716.7 723.3,713.3 733.3,713.3 741.7,715 748.3,716.7 750,720 746.7,726.7 745,733.3 741.7,738.3 740,745 733.3,748.3 726.7,746.7 721.7,741.7 718.3,736.7 718.3,728.3 721.7,723.3" fill="#FFFFE5"/>
<polygon points="741.7,641.7 750,635 751.7,631.7 758.3,626.7 766.7,641.7 776.7,639.2 783.3,640.8 788.3,638.3 800,643.3 810,643.3 810,700 790,703.3 783.3,700 778.3,708.3 773.3,723.3 771.7,716.7 765,711.7 756.7,711.7 750,716.7 748.3,716.7 741.7,715 733.3,713.3 726.7,703.3 721.7,698.3 723.3,691.7 731.7,685 733.3,676.7 738.3,671.7 741.7,666.7 738.3,658.3 743.3,655 746.7,648.3" fill="#FEE391"/>
<polygon points="740,670 745,668.3 751.7,675 758.3,678.3 761.7,685 766.7,691.7 768.3,696.7 763.3,696.7 758.3,690 751.7,688.3 746.7,685 741.7,678.3" fill="#FFFFE5"/>
<polygon points="776.7,670 783.3,666.7 791.7,665 800,663.3 806.7,663.3 806.7,693.3 791.7,695 786.7,698.3 783.3,693.3 781.7,683.3 778.3,676.7" fill="#FEB642"/>
<polygon points="783.3,621.7 790,619.2 800,618.3 806.7,618.3 806.7,643.3 795,641.7 788.3,638.3 783.3,640.8 776.7,639.2 783.3,635 786.7,630 781.7,625" fill="#F27E1B"/>
<polygon points="750,716.7 756.7,711.7 765,711.7 771.7,716.7 773.3,723.3 776.7,730 781.7,738.3 788.3,740 795,745 796.7,753.3 795,763.3 790,768.3 783.3,770 776.7,768.3 771.7,763.3 766.7,760 758.3,765 753.3,761.7 750,755 751.7,748.3 746.7,745 740,745 741.7,738.3 746.7,731.7 755,726.7 750,720" fill="#FECE65"/>
<polygon points="718.3,778.3 725,775 728.3,770 731.7,765 730.8,760 735,755 738.3,753.3 740,745 746.7,745 751.7,748.3 750,755 753.3,761.7 758.3,765 766.7,760 771.7,763.3 773.3,770 771.7,776.7 763.3,779.2 756.7,778.3 750,775 745,780 741.7,776.7 735,785 736.7,791.7 738.3,800 733.3,800 726.7,808.3 721.7,802.5 720.8,795 718.3,786.7" fill="#FEE391"/>
<polygon points="722,804 723,798 720,786 724,780 736,786 739,796 744,800 752,796 758,800 756,808 752,816 751,822 756,828 760,833 758,840 756,846 758,854 750,854 742,852 736,848 732,844 728,838 726,830 730,824 728,820 724,812" fill="#FECE65"/>
<polygon points="610,758 616,754 624,752 623,744 625,737 631,732 634,748 638,757 641,752 646,741 650,745 654,752 658,755 654,760 660,768 658,776 654,790 650,788 644,774 641,776 640,786 642,796 640,804 632,810 630,818 624,818 620,820 618,812 620,798 620,784 618,773 612,772 608,764" fill="#D9D9D9"/>
<polygon points="660,768 668,765 674,776 680,786 684,794 688,799 684,802 678,804 670,808 666,812 664,806 662,800 656,798 650,797 644,798 642,796 640,786 641,776 644,774 650,788 654,790 658,776" fill="#FEE391"/>
<polygon points="642,796 650,797 656,798 662,800 664,806 666,812 672,811 675,820 674,828 670,834 672,842 665,847 662,840 656,838 652,844 650,840 644,844 638,848 634,856 626,858 624,848 620,840 614,836 612,832 618,822 624,818 630,818 632,810 640,804" fill="#FFF0AE"/>
<polygon points="610,830 618,822 624,818 630,820 634,828 642,832 650,836 653,838 650,840 644,844 638,848 634,856 626,858 624,848 620,840 614,836" fill="#FFFACA"/>
<polygon points="596,847 602,844 603,836 610,830 612,832 614,836 620,840 624,848 624,860 616,862 608,864 601,869 596,868" fill="#FEB642"/>
<polygon points="626,858 634,856 638,848 644,844 650,840 652,844 656,838 662,840 665,847 664,858 662,868 658,874 656,882 648,884 643,889 639,889 632,889 627,886 627,877 624,872 622,866 624,860" fill="#D9D9D9"/>
<polygon points="665,847 672,842 678,852 682,856 686,864 690,870 694,878 698,884 699,890 704,898 705,904 698,905 691,906 688,908 680,902 670,902 662,906 654,910 653,917 646,915.6 633,914 634,908 638,902 637,897 643,889 648,884 656,882 658,874 662,868 664,858" fill="#FFF0AE"/>
<polygon points="654,910 662,906 670,902 680,902 688,908 688,910 690,917 695,922 696,930 695,939 686,938 679,937 680,930 678,925 678,923 670,927 664,929 654,930 652,922 651,915" fill="#D9D9D9"/>
<polygon points="674,808 678,804 684,802 688,799 694,811 702,810 706,816 708,826 704,834 700,840 696,844 698,852 690,854 684,856 678,852 672,842 670,834 674,828 675,820 672,811" fill="#D9D9D9"/>
<polygon points="682,856 690,854 698,852 696,844 700,840 704,842 705,852 710,852 718,848 721,841 722,852 723,860 718,862 714,866 708,864 702,868 704,874 706,878 700,881 694,878 690,870 686,864" fill="#FE9929"/>
<polygon points="706,816 710,808 714,804 722,804 724,812 728,820 730,824 726,830 728,838 732,844 736,848 730,850 723,852 721,841 718,848 710,852 705,852 704,842 704,834 708,826" fill="#FFF0AE"/>
<polygon points="694,878 700,881 706,878 704,874 702,868 708,864 714,866 718,862 723,860 723,852 730,850 736,848 742,852 734,858 733,866 736,876 740,886 742,894 743,904 737,898 732,901 728,897 721,905.6 716,901 709,898 705,904 704,898 699,890 698,884" fill="#D9D9D9"/>
<polygon points="734,858 742,852 750,854 758,854 762,860 770,862 778,863 786,861 792,866 791,874 786,877 780,881 778,886 773,883 767,887 762,888 760,895 754,894 750,897 745,897 742,904 742,894 740,886 736,876 733,866" fill="#FFF0AE"/>
<polygon points="1140,100 1260,100 1270,173 1258,176 1250,175 1242,174 1238,174 1233,170 1228,164 1222,159 1217,159 1210,165 1202,167 1194,166 1186,165 1178,168 1170,167 1167,164 1164,154 1164,144 1158,140 1150,137 1143,141 1136,137 1129,134 1136,129 1143,122 1140,113" fill="#FE9929"/>
<polygon points="1140,113 1143,122 1136,129 1129,134 1136,137 1143,141 1150,137 1158,140 1164,144 1164,154 1167,164 1170,167 1178,168 1186,165 1194,166 1202,167 1210,165 1217,159 1222,159 1228,164 1233,170 1238,174 1234,180 1231,188 1226,194 1221,200 1219,210 1220,219 1216,222 1211,224 1208,232 1205,240 1203,249 1200,242 1198,238 1192,242 1184,248 1176,253 1170,258 1163,263 1157,268 1148,270 1140,269 1132,273 1124,273.6 1118,270 1114,264 1108,261 1102,262 1093,269 1080,270 1060,260 990,270 990,180 1100,100 1140,100" fill="#E1640E"/>
<polygon points="1187,189 1192,187 1201,187 1202,192 1198,195 1189,194.4" fill="#F27E1B"/>
<polygon points="1238,174 1242,174 1250,175 1258,176 1270,173 1280,200 1312,208 1312,240 1300,240 1294,241 1288,246 1284,250 1276,254 1266,256 1256,258 1250,256 1249,248 1244,244 1236,242 1232,236 1236,230 1226,229 1220,232 1214,228 1211,224 1216,222 1220,219 1219,210 1221,200 1226,194 1231,188 1234,180" fill="#FEB642"/>
<polygon points="1211,224 1214,228 1220,232 1226,229 1236,230 1232,236 1236,242 1244,244 1249,248 1250,256 1248,264 1240,266 1230,266 1220,265 1212,266 1204,269 1196,272 1190,278 1186,284 1183,280 1178,278 1174,280 1168,282 1164,275 1157,268 1163,263 1170,258 1176,253 1184,248 1192,242 1198,238 1200,242 1203,249 1205,240 1208,232" fill="#FE9929"/>
<polygon points="990,310 1020,280 1060,276 1104,280 1100,286 1098,300 1096,310 1088,318 1084,326 1082,336 1076,340 1068,344 1060,346 1050,352 1044,348 1036,350 1035,360 1026,368 1020,374 1022,380 1022,392 990,392" fill="#FFFFE5"/>
<polygon points="1093,269 1102,262 1108,261 1114,264 1118,270 1124,273.6 1132,273 1140,269 1148,270 1157,268 1164,275 1168,282 1170,288 1170,294 1172,296 1166,300 1165,306 1160,308 1156,304 1148,303 1142,302 1140,308 1146,312 1149,320 1150,330 1149,338 1152,346 1144,342 1138,336 1132,332 1126,326 1120,320 1112,314 1104,312 1096,310 1098,300 1100,286 1101,280 1098,275" fill="#FEE391"/>
<polygon points="1022,380 1020,374 1026,368 1035,360 1036,350 1044,348 1050,352 1060,346 1068,344 1076,340 1082,336 1084,326 1088,318 1096,310 1104,316 1112,330 1120,346 1122,360 1116,370 1112,380 1112,392 1022,392" fill="#FE9929"/>
<polygon points="1096,310 1104,312 1112,314 1120,320 1126,326 1132,332 1138,336 1144,342 1152,346 1158,347 1166,344 1172,340 1178,352 1176,364 1180,368 1184,380 1184,392 1112,392 1112,380 1116,370 1122,360 1120,346 1112,330 1104,316" fill="#FEB642"/>
<polygon points="1140,302 1148,303 1156,304 1160,308 1165,306 1166,300 1172,296 1181,295.6 1188,295 1191,300 1193,308 1198,314 1190,318 1184,324 1178,330 1172,340 1166,344 1158,347 1154,347 1152,346 1149,338 1150,330 1149,320 1146,312 1140,308" fill="#FE9929"/>
<polygon points="1168,282 1174,280 1178,278 1183,280 1183,285 1176,286 1170,288" fill="#FFF0AE"/>
<polygon points="1186,284 1190,278 1196,272 1204,269 1212,266 1220,268 1222,276 1220,284 1216,292 1218,300 1222,306 1230,310 1230,316 1220,318 1214,316 1206,317 1198,314 1193,308 1191,300 1188,295" fill="#FFF0AE"/>
<polygon points="1220,265 1230,266 1240,266 1248,264 1250,256 1256,258 1266,256 1276,254 1284,250 1288,246 1294,241 1300,240 1312,240 1312,286 1290,287 1280,288 1270,288 1260,290 1250,296 1244,300 1242,308 1230,310 1222,306 1218,300 1216,292 1220,284 1222,276 1220,268" fill="#FEE391"/>
<polygon points="1198,314 1206,317 1214,316 1220,318 1230,316 1236,323 1240,330 1230,332 1220,334 1210,338 1204,344 1200,350 1192,352 1184,354 1178,352 1172,340 1178,330 1184,324 1190,318" fill="#FECE65"/>
<polygon points="1178,352 1184,354 1192,352 1200,350 1200,360 1210,364 1212,372 1208,380 1208,392 1184,392 1184,380 1180,368 1176,364" fill="#F27E1B"/>
<polygon points="1230,315 1244,308 1242,304 1246,300 1250,294 1258,288 1266,286 1276,280 1284,287 1292,287 1300,289 1308,288 1318,284 1328,288 1330,296 1329,302 1330,310 1338,318 1336,324 1340,330 1352,332 1360,340 1360,368 1350,368 1344,365 1336,360 1334,353 1328,354 1320,356 1310,359 1308,365 1300,364 1294,354 1292,344 1288,342 1284,351 1276,350 1270,340 1261,337 1260,328 1252,321 1246,323 1236,322" fill="#FE9929"/>
<polygon points="1220,198 1271,198 1274,207 1280,211 1290,210 1300,211 1308,216 1309,222 1315,228 1308,232 1302,238 1294,241 1288,244 1284,250 1276,254 1266,256 1256,258 1250,256 1250,246 1240,242 1232,236 1236,232 1224,229 1212,230 1214,226 1220,216" fill="#FEB642"/>
<polygon points="1220,265 1230,264 1240,262 1250,257 1256,258 1266,256 1276,254 1284,250 1288,244 1292,244 1286,252 1288,260 1290,268 1284,274 1275,276 1276,280 1266,286 1258,288 1250,294 1246,300 1242,306 1230,312 1220,316 1220,300 1222,284 1222,276" fill="#FEE391"/>
<polygon points="1308,216 1314,214 1322,219 1328,225 1336,228 1343,229 1340,237 1346,243 1341,248 1330,244 1322,245 1320,252 1324,260 1324,268 1320,272 1317,278 1318,284 1308,288 1300,289 1292,287 1284,287 1276,280 1275,276 1284,274 1290,268 1288,260 1286,252 1292,244 1300,241 1302,238 1308,232 1315,228 1309,222" fill="#FFFACA"/>
<polygon points="1322,245 1330,244 1341,248 1346,251 1349,258 1362,258.6 1372,258 1383,257 1380,264 1372,270 1360,271 1350,270 1340,269 1336,274 1328,272 1324,268 1324,260 1320,252" fill="#D9D9D9"/>
<polygon points="1317,278 1320,272 1324,268 1328,272 1336,274 1340,269 1350,270 1360,271 1372,270 1380,264 1382,258 1387,252 1395,247.6 1404,246.6 1412,244 1420,240.6 1430,240.6 1443,239 1435,245 1432,253 1436,259 1428,266 1424,262 1416,264 1408,266 1402,272 1398,278 1392,282 1380,280 1370,277 1360,276 1352,279 1342,282 1348,288 1354,292 1360,296 1358,300 1348,301 1340,300 1330,296 1328,288 1318,284" fill="#F27E1B"/>
<polygon points="1342,282 1352,279 1360,276 1370,277 1380,280 1392,282 1398,278 1402,272 1408,266 1416,264 1424,262 1428,258 1430,265 1423,266 1422,274 1417,282 1415,288 1400,290 1394,296 1388,299 1378,300 1376,306 1370,304 1368,300 1360,296 1354,292 1348,288" fill="#CC4C02"/>
<polygon points="1330,300 1340,302 1348,302 1358,301 1360,297 1364,298 1368,301 1366,305 1358,306 1354,310 1346,311 1340,313 1332,311 1330,306" fill="#662506"/>
<polygon points="1338,318 1340,313 1346,311 1354,310 1358,306 1366,305 1370,304 1376,306 1378,300 1388,299 1394,296 1400,290 1415,288 1413,298 1408,304 1406,312 1399,316 1399,326 1394,329 1386,327 1376,324 1368,322 1362,328 1356,330 1350,333 1340,330 1336,324" fill="#FEB642"/>
<polygon points="1270,340 1276,350 1284,351 1288,342 1292,344 1294,354 1300,364 1308,365 1310,359 1320,356 1328,354 1334,353 1336,360 1344,365 1350,368 1358,367 1358,376 1354,384 1342,385 1344,394 1332,390 1328,381 1324,382 1321,395 1314,396 1309,401 1303,406 1292,406 1284,404 1283,400 1282,388 1276,384 1270,376 1274,366 1278,356" fill="#FEB642"/>
<polygon points="1206,338 1220,330 1230,326 1236,322 1246,323 1252,321 1260,328 1261,337 1270,340 1276,350 1278,356 1274,366 1270,376 1268,384 1260,386 1252,386 1246,380 1240,376 1232,374 1226,370 1220,364 1212,360 1206,362 1208,352 1204,346" fill="#FE9929"/>
<polygon points="1198,316 1212,315 1220,317 1230,315 1236,322 1230,326 1220,330 1206,338 1204,346 1208,352 1206,362 1198,360" fill="#FEB642"/>
<polygon points="1240,406 1246,400 1252,392 1256,384 1260,386 1268,384 1276,384 1282,388 1283,400 1284,404 1292,406 1290,416 1286,422 1280,420 1272,419 1264,418 1260,413 1257,411 1250,415 1247,419" fill="#FFFACA"/>
<polygon points="1198,360 1212,360 1220,364 1226,370 1232,374 1240,376 1246,380 1252,386 1240,386 1230,388 1231,382 1226,376 1220,373 1212,374 1206,370 1198,372" fill="#F27E1B"/>
<polygon points="1212,374 1220,373 1226,376 1231,382 1230,388 1222,392 1218,388 1214,382" fill="#AA3C03"/>
<polygon points="1220,402 1222,392 1230,388 1240,386 1252,386 1256,384 1252,392 1246,400 1240,406 1247,419 1242,426 1235,431 1230,433 1226,420 1222,410" fill="#E1640E"/>
<polygon points="990,290 1098,300 1094,310 1088,316 1086,326 1080,334 1076,340 1068,344 1060,348 1050,352 1044,348 1036,350 1034,360 1026,368 1020,374 1026,382 1028,390 1033,394 1032,402 1026,405 1018,404 1012,409 1000,410 990,412" fill="#FFFFE5"/>
<polygon points="1020,374 1026,368 1034,360 1036,350 1044,348 1050,352 1060,348 1068,344 1076,340 1080,334 1086,326 1088,316 1094,312 1104,318 1112,326 1116,336 1120,348 1122,358 1116,368 1111,376 1112,386 1116,394 1120,400 1112,404 1104,412 1100,404 1096,398 1091,395 1087,399 1088,408 1087,418 1084,422 1076,421 1066,420 1062,414 1064,406 1062,402 1058,396 1053,389 1046,390 1036,393 1033,394 1028,390 1026,382" fill="#FE9929"/>
<polygon points="1094,312 1098,308 1106,312 1114,316 1120,322 1126,330 1134,336 1142,342 1150,346 1154,347 1162,345 1172,341 1177,350 1180,360 1177,366 1184,370 1180,376 1176,379 1168,380 1158,384 1148,387 1140,391 1132,394 1124,398 1120,400 1116,394 1112,386 1111,376 1116,368 1122,358 1120,348 1116,336 1112,326 1104,318" fill="#FEB642"/>
<polygon points="1098,298 1140,298 1148,306 1149,318 1150,330 1154,347 1150,346 1142,342 1134,336 1126,330 1120,322 1114,316 1106,312 1098,308" fill="#FEE391"/>
<polygon points="1140,298 1192,298 1184,312 1178,320 1172,330 1172,341 1162,345 1154,347 1150,330 1149,318 1148,306" fill="#FE9929"/>
<polygon points="1192,300 1200,312 1210,317 1220,316 1230,315 1240,326 1230,330 1220,332 1210,338 1204,344 1200,350 1192,352 1184,354 1178,352 1172,341 1172,330 1178,320 1184,312" fill="#FECE65"/>
<polygon points="1192,298 1244,298 1240,308 1230,315 1220,316 1210,317 1200,312" fill="#FFF0AE"/>
<polygon points="1200,350 1204,344 1210,338 1220,332 1230,330 1240,326 1236,323 1230,315 1240,308 1244,300 1252,322 1260,328 1261,337 1270,342 1276,350 1278,360 1276,370 1272,380 1266,384 1254,386 1250,390 1232,384 1226,376 1218,370 1212,364 1208,356" fill="#FE9929"/>
<polygon points="1178,352 1184,354 1192,352 1200,350 1208,356 1212,364 1218,370 1226,376 1220,373 1212,374 1210,374 1204,380 1200,376 1192,372 1187,368 1184,370 1177,366 1180,360 1177,350" fill="#F27E1B"/>
<polygon points="1212,374 1220,373 1226,376 1231,382 1230,388 1222,394 1218,388 1214,382" fill="#AA3C03"/>
<polygon points="1220,402 1222,394 1230,388 1231,382 1240,386 1252,386 1248,396 1240,406 1247,419 1242,425 1236,430 1230,433 1226,420 1222,410" fill="#E1640E"/>
<polygon points="1184,370 1187,368 1192,372 1200,376 1204,380 1210,374 1214,382 1218,388 1222,394 1220,402 1212,406 1204,409 1196,412 1188,416 1182,412 1180,404 1181,394 1182,384 1180,376" fill="#FE9929"/>
<polygon points="1188,416 1196,412 1204,409 1212,406 1220,402 1222,410 1226,420 1220,418 1212,418 1204,422 1196,420 1190,418" fill="#F27E1B"/>
<polygon points="1184,418 1190,418 1196,420 1204,422 1212,418 1220,418 1226,420 1230,433 1226,432 1218,428 1210,426 1202,428 1194,430 1188,434 1183,432 1184,424" fill="#CC4C02"/>
<polygon points="1183,432 1188,434 1194,430 1202,428 1210,426 1218,428 1226,432 1230,433 1232,436 1222,441 1216,445 1208,451 1202,456 1196,462 1184,463 1180,456 1182,448 1182,440" fill="#E1640E"/>
<polygon points="1158,384 1168,380 1176,379 1180,376 1182,384 1181,394 1180,404 1182,412 1184,418 1184,424 1183,432 1182,440 1182,448 1180,456 1174,454 1168,452 1166,444 1162,438 1158,432 1156,426 1158,416 1160,410 1158,404 1160,396 1162,390" fill="#FEB642"/>
<polygon points="1126,402 1130,396 1140,391 1148,387 1158,384 1162,390 1168,394 1164,398 1158,402 1152,404 1144,406 1136,410 1130,408" fill="#FEE391"/>
<polygon points="1118,424 1122,418 1130,408 1136,410 1144,406 1152,404 1158,402 1160,410 1158,416 1156,426 1148,422 1140,424 1138,430 1140,434.4 1132,433 1125,435 1120,430" fill="#FEB642"/>
<polygon points="1138,423 1144,420 1150,420 1155,424 1156,428 1152,432 1150,438 1146,439 1140,435 1138,430" fill="#CC4C02"/>
<polygon points="1150,438 1152,432 1156,428 1158,432 1162,438 1166,444 1168,452 1174,454 1180,456 1184,463 1176,465 1168,468 1160,472 1154,476 1148,481 1142,484 1134,488 1126,490 1125,483 1132,480 1134,476 1129,472 1128,467 1134,464 1138,460 1144,455 1147,451 1151,446 1152,441" fill="#F27E1B"/>
<polygon points="1087,399 1091,395 1096,398 1100,404 1104,412 1112,404 1120,400 1126,402 1130,408 1122,418 1118,424 1112,426 1104,428 1098,432 1092,436 1088,440 1080,436 1077,432 1080,426 1084,422 1087,418 1088,408" fill="#FE9929"/>
<polygon points="1088,440 1092,436 1098,432 1104,428 1112,426 1118,424 1120,430 1125,436 1120,444 1114,452 1106,455 1098,459 1094,448 1091,442" fill="#FECE65"/>
<polygon points="1012,409 1018,404 1026,405 1032,402 1033,394 1036,393 1046,390 1053,389 1058,396 1062,402 1064,406 1062,414 1066,420 1076,421 1084,422 1080,426 1077,432 1080,436 1076,440 1068,442 1060,446 1050,449 1044,448 1040,442 1046,439 1040,438 1032,436 1026,430 1020,434 1016,426 1012,418" fill="#FECE65"/>
<polygon points="1068,442 1076,440 1080,436 1088,440 1091,442 1094,448 1098,459 1092,462 1087,469 1080,462 1078,454 1074,448" fill="#FE9929"/>
<polygon points="1044,448 1050,449 1060,446 1068,442 1074,448 1078,454 1080,462 1087,469 1086,475 1080,479 1072,480 1069,485 1064,481 1058,478 1054,472 1056,466 1050,460 1046,454" fill="#FEB642"/>
<polygon points="990,410 1008,408 1012,418 1016,426 1020,434 1012,438 1006,442 1010,448 1004,452 1000,454 990,456" fill="#E1640E"/>
<polygon points="1006,442 1012,438 1020,434 1026,430 1032,436 1040,438 1046,439 1040,442 1044,448 1046,454 1040,452 1036,454 1030,454 1031,464 1022,466 1016,466 1006,467 1002,460 1004,452 1010,448" fill="#FE9929"/>
<polygon points="1030,454 1036,454 1040,452 1046,454 1050,460 1056,466 1054,472 1058,478 1052,485 1049,491 1040,492 1032,488 1029,482 1032,474 1031,464" fill="#F27E1B"/>
<polygon points="766.7,408.3 820,391.7 866.7,390.8 865.8,400 861.7,406.7 863.3,413.3 868.3,416.7 870,423.3 873.3,430 874.2,435 868.3,438.3 865,441.7 856.7,440 850,438.3 840,435 831.7,434.2 823.3,435.8 816.7,440 811.7,445 805.8,446.7 797.5,445 795,441.7 788.3,438.3 780,434.2 773.3,430 770,421.7" fill="#FECE65"/>
<polygon points="790,480 795,475 801.7,471.7 805.8,473.3 809.2,479.2 807.5,484.2 803.3,488.3 798.3,489.2 793.3,486.7 788.3,484.2" fill="#D9D9D9"/>
<polygon points="786.7,486.7 793.3,486.7 798.3,489.2 803.3,488.3 801.7,493.3 799.2,498.3 801.7,503.3 805,508.3 805.8,513.3 801.7,515 797.5,510 793.3,505 788.3,501.7 785,501.7 785,493.3" fill="#FE9929"/>
<polygon points="866.7,390.8 876.7,387.5 886.7,383.3 891.7,391.7 895,398.3 898.3,406.7 905,411.7 910,416.7 910,420.8 903.3,420.8 895,420 890,423.3 892.5,430 896.7,436.7 900,443.3 905,448.3 908.3,453.3 906.7,450 896.7,445 886.7,442.5 878.3,441.7 870,441.7 865,441.7 868.3,438.3 874.2,435 873.3,430 870,423.3 868.3,416.7 863.3,413.3 861.7,406.7 865.8,400" fill="#FEE391"/>
<polygon points="890,423.3 895,420 903.3,420.8 910,420.8 916.7,422.5 921.7,426.7 925.8,433.3 925,440 928.3,446.7 925.8,451.7 923.3,456.7 921.7,465 916.7,465 910.8,464.2 909.2,460 908.3,453.3 905,448.3 900,443.3 896.7,436.7 892.5,430" fill="#FFFACA"/>
<polygon points="885,385 900,369.2 908.3,375 916.7,380 921.7,386.7 926.7,391.7 935,395.8 943.3,403.3 950,404.2 956.7,401.7 965,403.3 970,400 976.7,401.7 975,406.7 971.7,413.3 965,418.3 964.2,426.7 968.3,431.7 970,438.3 965,441.7 956.7,445 950,446.7 943.3,446.7 938.3,450.8 935,449.2 930,448.3 928.3,446.7 925,440 925.8,433.3 921.7,426.7 916.7,422.5 910,420.8 910,416.7 905,411.7 898.3,406.7 895,398.3 891.7,391.7" fill="#E1640E"/>
<polygon points="900,369.2 923.3,356.7 1020,356.7 1020,405 1016.7,407.5 1010,406.7 1003.3,410 995,414.2 988.3,413.3 987.5,403.3 983.3,400 976.7,401.7 970,400 965,403.3 956.7,401.7 950,404.2 943.3,403.3 935,395.8 926.7,391.7 921.7,386.7 916.7,380 908.3,375" fill="#FFFFE5"/>
<polygon points="976.7,401.7 983.3,400 987.5,403.3 988.3,413.3 995,414.2 1003.3,410 1010,406.7 1013.3,411.7 1016.7,418.3 1018.3,426.7 1020,430 1015,435 1010,438.3 1006.7,443.3 1008.3,448.3 1003.3,453.3 1000,456.7 996.7,461.7 990,463.3 983.3,465 978.3,463.3 976.7,456.7 971.7,453.3 968.3,455 970,448.3 978.3,446.7 973.3,440 970,438.3 968.3,431.7 964.2,426.7 965,418.3 971.7,413.3 975,406.7" fill="#E1640E"/>
<polygon points="805.8,446.7 811.7,445 816.7,440 823.3,435.8 831.7,434.2 840,435 850,438.3 856.7,440 865,441.7 870,441.7 878.3,441.7 886.7,442.5 896.7,445 906.7,450 909.2,460 910.8,464.2 903.3,468.3 898.3,470 893.3,473.3 886.7,471.7 880,470 876.7,475 871.7,480 866.7,486.7 860,493.3 855,498.3 856.7,505 851.7,506.7 850,513.3 843.3,515 836.7,516.7 831.7,513.3 826.7,510.8 820,506.7 813.3,503.3 806.7,501.7 799.2,498.3 801.7,493.3 803.3,488.3 807.5,484.2 809.2,479.2 812.5,476.7 809.2,470 808.3,460 805,453.3" fill="#FEB642"/>
<polygon points="818.3,518.3 820,513.3 826.7,510.8 831.7,513.3 836.7,516.7 843.3,515 850,513.3 851.7,506.7 856.7,505 855,498.3 860,493.3 866.7,486.7 871.7,480 876.7,475 880,470 886.7,471.7 893.3,473.3 898.3,470 903.3,468.3 905,473.3 901.7,480 900,486.7 898.3,493.3 893.3,498.3 890,503.3 891.7,510 895,516.7 893.3,523.3 890,531.7 883.3,531.7 878.3,526.7 871.7,521.7 865,520 858.3,523.3 850,530 845,528.3 840,523.3 836.7,526.7 828.3,528.3 826.7,535 821.7,533.3 818.3,526.7" fill="#E1640E"/>
<polygon points="910.8,464.2 916.7,465 921.7,465 923.3,470 928.3,476.7 936.7,478.3 945,475 953.3,473.3 958.3,470 965,473.3 966.7,478.3 963.3,483.3 958.3,491.7 953.3,495 945,498.3 936.7,500 928.3,501.7 920,501.7 911.7,506.7 915,511.7 923.3,515 928.3,518.3 925,525 920,528.3 915,533.3 910,535 900,535 890,531.7 893.3,523.3 895,516.7 891.7,510 890,503.3 893.3,498.3 898.3,493.3 900,486.7 901.7,480 905,473.3 903.3,468.3" fill="#FEB642"/>
<polygon points="923.3,456.7 925.8,451.7 930,448.3 935,449.2 936.7,455 938.3,461.7 943.3,460 948.3,457.5 953.3,458.3 955,463.3 957.5,469.2 953.3,471.7 946.7,473.3 941.7,476.7 936.7,478.3 928.3,476.7 923.3,470 921.7,465" fill="#AA3C03"/>
<polygon points="938.3,450.8 943.3,446.7 950,446.7 956.7,445 965,441.7 970,438.3 973.3,440 978.3,446.7 970,448.3 968.3,455 971.7,453.3 976.7,456.7 978.3,463.3 979.2,470 976.7,476.7 970,480 966.7,478.3 965,473.3 958.3,470 957.5,469.2 955,463.3 953.3,458.3 948.3,457.5 943.3,460 938.3,461.7 936.7,455 935,449.2" fill="#FE9929"/>
<polygon points="911.7,506.7 920,501.7 928.3,501.7 936.7,500 945,498.3 953.3,495 958.3,491.7 958.3,498.3 963.3,505 968.3,510 970,516.7 966.7,523.3 963.3,530 961.7,536.7 956.7,538.3 951.7,535 945,533.3 938.3,530 933.3,528.3 926.7,531.7 920,536.7 915,539.2 910,535 915,533.3 920,528.3 925,525 928.3,518.3 923.3,515 915,511.7" fill="#FEE391"/>
<polygon points="936.7,510 945,505 953.3,498.3 958.3,493.3 958.3,498.3 963.3,505 968.3,510 970,516.7 966.7,523.3 963.3,530 961.7,536.7 956.7,538.3 951.7,535 945,533.3 938.3,530 935,526.7 930,525 933.3,518.3" fill="#FFF0AE"/>
<polygon points="888.3,533.3 900,535 910,535 915,539.2 920,536.7 923.3,540 928.3,548.3 935,551.7 936.7,556.7 930,560 923.3,565 920,570 913.3,566.7 906.7,568.3 901.7,563.3 896.7,565 890,563.3 889.2,553.3 888.3,543.3" fill="#F27E1B"/>
<polygon points="923.3,533.3 933.3,529.2 938.3,530 945,533.3 951.7,535 956.7,538.3 960,546.7 960.8,553.3 958.3,561.7 951.7,560 945,558.3 936.7,556.7 935,551.7 928.3,548.3 923.3,540" fill="#AA3C03"/>
<polygon points="920,570 923.3,565 930,560 936.7,556.7 945,558.3 951.7,560 958.3,561.7 956.7,568.3 951.7,573.3 945,576.7 938.3,578.3 931.7,576.7 925,576.7 921.7,573.3" fill="#FE9929"/>
<polygon points="925,576.7 931.7,576.7 938.3,578.3 939.2,582.5 935,585 928.3,584.2 925,581.7" fill="#882F05"/>
<polygon points="890,563.3 896.7,565 901.7,563.3 906.7,568.3 913.3,566.7 920,570 921.7,573.3 925,576.7 925,581.7 918.3,581.7 913.3,585 906.7,588.3 900,591.7 893.3,593.3 886.7,593.3 883.3,588.3 885,580 888.3,571.7" fill="#FEE391"/>
<polygon points="886.7,593.3 893.3,593.3 900,591.7 906.7,588.3 913.3,585 918.3,581.7 921.7,583.3 922.5,590 918.3,593.3 911.7,595 905,598.3 903.3,605 906.7,610 908.3,620 890,620 890,610 888.3,601.7" fill="#AA3C03"/>
<polygon points="826.7,535 828.3,528.3 836.7,526.7 840,523.3 845,528.3 850,530 858.3,523.3 865,520 871.7,521.7 878.3,526.7 883.3,531.7 890,531.7 888.3,533.3 888.3,543.3 889.2,553.3 890,563.3 886.7,565 880,568.3 873.3,570 866.7,573.3 860,575 853.3,571.7 848.3,573.3 845,566.7 848.3,560 846.7,551.7 848.3,546.7 841.7,543.3 835,540" fill="#FEE391"/>
<polygon points="826.7,576.7 833.3,575.8 840,575 846.7,573.3 853.3,571.7 860,575 866.7,573.3 873.3,570 880,568.3 886.7,565 890,563.3 888.3,571.7 885,580 883.3,588.3 886.7,593.3 888.3,601.7 890,610 890,620 826.7,620 831.7,601.7 831.7,590" fill="#FEB642"/>
<polygon points="846.7,578.3 851.7,573.3 858.3,570 865,571.7 863.3,576.7 858.3,581.7 853.3,586.7 848.3,585" fill="#CC4C02"/>
<polygon points="958.3,491.7 963.3,483.3 966.7,478.3 970,480 976.7,476.7 979.2,470 983.3,465 990,463.3 996.7,461.7 1000,456.7 1003.3,460 1001.7,465 1006.7,466.7 1013.3,466.7 1020,465 1020,518.3 1015,521.7 1008.3,528.3 1003.3,535 998.3,541.7 996.7,545 1000,550 998.3,555 991.7,555 986.7,553.3 978.3,551.7 970,550 961.7,548.3 956.7,538.3 961.7,536.7 963.3,530 966.7,523.3 970,516.7 968.3,510 963.3,505 958.3,498.3" fill="#FEB642"/>
<polygon points="958.3,491.7 963.3,488.3 971.7,490 980,493.3 986.7,498.3 993.3,501.7 1000,505 998.3,510 993.3,513.3 986.7,516.7 978.3,518.3 970,520 970,516.7 968.3,510 963.3,505 958.3,498.3" fill="#FECE65"/>
<polygon points="961.7,548.3 970,550 978.3,551.7 986.7,553.3 991.7,555 998.3,555 1000,560 995,565 990,570 986.7,575 981.7,576.7 975,575 968.3,573.3 961.7,570 958.3,561.7 960.8,553.3" fill="#FECE65"/>
<polygon points="968.3,557.5 973.3,558.3 980,561.7 983.3,565 978.3,568.3 973.3,570 970,566.7 968.3,561.7" fill="#FFFACA"/>
<polygon points="970,457.3 975.3,458.7 978,464 983.3,465.3 990,464 995.3,461.3 999.3,457.3 1000.7,460 1002,465.3 1008.7,468 1014,466.7 1020.7,466.7 1023.3,469.3 1030,466.7 1032.7,470.7 1032.7,477.3 1028.7,480 1028.7,485.3 1022,488 1018,482.7 1014,484 1010,490.7 1006,496 1008.7,500 1004.7,506.7 1000.7,509.3 999.3,504 994,501.3 987.3,498.7 983.3,493.3 976.7,489.3 970,489.3" fill="#FE9929"/>
<polygon points="974,438.7 1006,438.7 1011.3,448 1008.7,452 1002,453.3 999.3,457.3 995.3,461.3 990,464 983.3,465.3 978,464 975.3,458.7 970,457.3 968.7,440" fill="#E1640E"/>
<polygon points="1006,438.7 1039.3,438.7 1042,446.7 1044.7,450.7 1039.3,453.3 1032.7,454.7 1030,457.3 1032.7,460 1032.7,464 1030,466.7 1023.3,469.3 1020.7,466.7 1014,466.7 1008.7,468 1002,465.3 1000.7,460 999.3,457.3 1002,453.3 1008.7,452 1011.3,448" fill="#FE9929"/>
<polygon points="1039.3,438.7 1083.3,438.7 1087.3,442.7 1092.7,444 1095.3,449.3 1098,454.7 1092.7,456 1087.3,453.3 1082,450.7 1076.7,448 1071.3,445.3 1066,448 1060.7,448 1052.7,449.3 1047.3,450.7 1044.7,450.7 1042,446.7" fill="#FECE65"/>
<polygon points="1092.7,444 1103.3,438.7 1122,438.7 1116.7,446.7 1114,450.7 1108.7,452 1103.3,453.3 1098,454.7 1095.3,449.3" fill="#FECE65"/>
<polygon points="1044.7,450.7 1052.7,449.3 1060.7,448 1066,448 1071.3,445.3 1076.7,450.7 1075.3,457.3 1075.3,464 1079.3,468 1084.7,470.7 1087.3,472 1083.3,474.7 1079.3,477.3 1075.3,478.7 1070,480 1068.7,482.7 1063.3,480 1060.7,476 1056.7,473.3 1052.7,470.7 1055.3,468 1050,465.3 1047.3,461.3 1046,456" fill="#FEB642"/>
<polygon points="1071.3,445.3 1076.7,448 1082,450.7 1087.3,453.3 1092.7,456 1098,454.7 1090,460 1086,465.3 1087.3,472 1084.7,470.7 1079.3,468 1075.3,464 1075.3,457.3 1076.7,450.7" fill="#FE9929"/>
<polygon points="1030,457.3 1032.7,454.7 1039.3,453.3 1044.7,450.7 1046,456 1047.3,461.3 1050,465.3 1055.3,468 1052.7,470.7 1056.7,473.3 1055.3,477.3 1051.3,482.7 1050,486.7 1048.7,492 1042,492 1036.7,490.7 1032.7,489.3 1028.7,485.3 1028.7,480 1032.7,477.3 1032.7,470.7 1031.3,465.3 1032.7,464 1032.7,460" fill="#F27E1B"/>
<polygon points="1006,496 1010,490.7 1014,484 1018,482.7 1022,488 1028.7,485.3 1032.7,489.3 1036.7,490.7 1042,492 1048.7,492 1051.3,494.7 1055.3,498.7 1051.3,502.7 1047.3,506.7 1044.7,509.3 1036.7,510.7 1030,512 1026,514.7 1022,518.7 1018,514.7 1020.7,509.3 1024.7,506.7 1022,502.7 1015.3,500 1008.7,500" fill="#F27E1B"/>
<polygon points="968.7,489.3 976.7,489.3 983.3,493.3 987.3,498.7 994,501.3 999.3,504 1000.7,509.3 996.7,514.7 990,514.7 983.3,517.3 976.7,518.7 968.7,518.7" fill="#FECE65"/>
<polygon points="1022,518.7 1026,514.7 1030,512 1036.7,510.7 1044.7,509.3 1047.3,506.7 1051.3,502.7 1055.3,500 1060.7,502.7 1062,508 1063.3,513.3 1060.7,517.3 1062,522.7 1064.7,526.7 1068.7,533.3 1074,526.7 1079.3,524 1083.3,526.7 1087.3,529.3 1092.7,530.7 1098,526.7 1099.3,522.7 1107.3,518.7 1108.7,514.7 1116.7,512.7 1123.3,512 1128.7,516 1135.3,518.7 1138,520.7 1147.3,518.7 1156.7,521.3 1164.7,520.7 1163.3,526.7 1160.7,533.3 1154,536 1147.3,534.7 1140.7,538.7 1135.3,541.3 1130,542.7 1124.7,545.3 1118,550.7 1116.7,554.7 1111.3,557.3 1107.3,558.7 1103.3,562.7 1100.7,566.7 1095.3,569.3 1092.7,573.3 1090,578.7 1086,581.3 1082,581.3 1076.7,584 1072.7,588 1068.7,592 1066,597.3 1062,598.7 1059.3,593.3 1055.3,592 1051.3,594.7 1047.3,596 1042,594.7 1038,597.3 1034,590.7 1030,585.3 1023.3,585.3 1020.7,586.7 1016.7,584 1015.3,580 1016.7,573.3 1014,566.7 1010,560 1014,556 1008.7,536 1011.3,533.3 1016.7,530.7 1020.7,532" fill="#E1640E"/>
<polygon points="1022,518.7 1018,514.7 1014,520 1010,525.3 1008.7,530.7 1003.3,538.7 998,542.7 996.7,546.7 999.3,550.7 1002,554.7 999.3,560 1010,557.3 1014,556 1023.3,533.3" fill="#E1640E"/>
<polygon points="1034,525.3 1036.7,520 1042,518.7 1044.7,522.7 1050,525.3 1051.3,533.3 1052.7,540 1055.3,546.7 1056.7,554.7 1052.7,553.3 1048.7,550.7 1044.7,548 1040.7,546.7 1036.7,548 1032.7,549.3 1030,549.3 1026,546.7 1022,544 1020.7,538.7 1023.3,533.3 1030,530.7" fill="#F27E1B"/>
<polygon points="1014,556 1018,554.7 1023.3,550.7 1030,549.3 1036.7,548 1040.7,546.7 1044.7,550.7 1048.7,556 1056.7,557.3 1052.7,560 1047.3,561.3 1042,562.7 1036.7,564 1030,562.7 1026,560 1020.7,561.3 1016.7,560" fill="#CC4C02"/>
<polygon points="1047.3,526.7 1052.7,525.3 1056.7,526.7 1059.3,532 1064.7,533.3 1068.7,534.7 1064.7,538.7 1062,544 1063.3,549.3 1066,553.3 1068.7,557.3 1063.3,558.7 1059.3,557.3 1056.7,554.7 1055.3,546.7 1051.3,541.3 1052.7,536 1050,530.7" fill="#AA3C03"/>
<polygon points="1062,504 1068.7,502.7 1075.3,501.3 1080.7,505.3 1084.7,509.3 1088,512.7 1087.3,517.3 1080.7,518 1079.3,524 1074,526.7 1071.3,529.3 1068.7,533.3 1064.7,533.3 1064.7,526.7 1062,522.7 1060.7,517.3 1063.3,513.3 1064.7,509.3" fill="#FFFACA"/>
<polygon points="1068.7,533.3 1071.3,529.3 1074,526.7 1079.3,524 1083.3,526.7 1087.3,529.3 1092.7,530.7 1092.7,536 1095.3,541.3 1100.7,545.3 1098,550.7 1095.3,556 1094,561.3 1090,560 1086,556 1080.7,554.7 1075.3,553.3 1071.3,554.7 1068.7,557.3 1066,553.3 1063.3,549.3 1062,544 1064.7,538.7" fill="#FE9929"/>
<polygon points="1071.3,554.7 1075.3,553.3 1080.7,554.7 1086,556 1090,560 1094,561.3 1095.3,569.3 1092.7,573.3 1090,578.7 1086,581.3 1082,581.3 1078,576 1075.3,570.7 1071.3,566.7 1070,560" fill="#F27E1B"/>
<polygon points="1030,578.7 1036.7,576 1043.3,574.7 1047.3,578.7 1050,584 1052.7,590.7 1051.3,594.7 1047.3,596 1042,594.7 1038,592 1035.3,586.7 1032.7,582.7" fill="#CC4C02"/>
<polygon points="987.3,580 990,576 994,572 999.3,568 1004.7,564 1010,560 1014,556 1015.3,557.3 1014,566.7 1016.7,573.3 1015.3,580 1016.7,584 1020.7,586.7 1020.7,592 1016.7,594.7 1010,594.7 1002,594.7 999.3,589.3 995.3,585.3 991.3,584 987.3,582.7" fill="#FEB642"/>
<polygon points="998,560 1002,558.7 1010,556.7 1014,555.3 1014,556.7 1010,560 1004.7,564 1000,566.7" fill="#FECE65"/>
<polygon points="968.7,518.7 976.7,518.7 983.3,517.3 990,514.7 996.7,514.7 1000.7,509.3 1004.7,514.7 1008.7,520 1011.3,525.3 1008.7,530.7 1003.3,538.7 998,542.7 996.7,546.7 999.3,550.7 1000.7,554.7 991.3,553.3 986,554.7 978,552 968.7,550.7" fill="#FEB642"/>
<polygon points="968.7,550.7 978,552 986,554.7 991.3,553.3 1000.7,554.7 999.3,560 1004.7,564 999.3,568 994,572 990,576 987.3,580 983.3,578.7 976.7,577.3 968.7,573.3" fill="#FECE65"/>
<polygon points="968.7,557.3 975.3,560 980.7,562.7 983.3,564.7 978,568 974,570.7 968.7,568" fill="#FFFACA"/>
<polygon points="968.7,585.3 983.3,585.3 987.3,586.7 991.3,584 995.3,585.3 999.3,589.3 1002,594.7 1010,594.7 1016.7,594.7 1020.7,597.3 1023.3,604 1024.7,609.3 1020.7,612 1015.3,613.3 1010,609.3 1004.7,608 1002,612 1003.3,617.3 999.3,621.3 996.7,626.7 990,630.7 983.3,626.7 976.7,620 968.7,613.3" fill="#F27E1B"/>
<polygon points="987.3,588 991.3,585.3 995.3,586 999.3,590 1002,595.3 1010,595.3 1016.7,595.3 1020.7,598 1023.3,604.7 1020.7,611.3 1015.3,612.7 1010,608.7 1004.7,607.3 999.3,605.3 994,604 988.7,600 986,593.3" fill="#FE9929"/>
<polygon points="1003.3,612 1004.7,608 1010,609.3 1015.3,613.3 1020.7,612 1024.7,609.3 1028.7,606.7 1032.7,610.7 1032.7,618.7 1034,625.3 1039.3,624 1044.7,622.7 1050,626.7 1056.7,630.7 1058,634.7 1055.3,640 1055.3,648 1010,648 996.7,640 987.3,632 996.7,626.7 999.3,621.3 1003.3,617.3" fill="#E1640E"/>
<polygon points="1023.3,610.7 1028.7,606.7 1032.7,610.7 1032.7,618.7 1034,625.3 1039.3,624 1044.7,622.7 1050,626.7 1056.7,630.7 1058,634.7 1055.3,640 1030,640 1028.7,632 1031.3,626.7 1027.3,621.3 1023.3,616" fill="#CC4C02"/>
<polygon points="1020.7,586.7 1023.3,585.3 1030,585.3 1034,590.7 1038,597.3 1042,594.7 1047.3,596 1051.3,594.7 1055.3,592 1059.3,593.3 1062,598.7 1066,597.3 1071.3,598.7 1068.7,602.7 1063.3,604 1059.3,605.3 1056.7,610.7 1060.7,614.7 1062,618.7 1060.7,624 1056.7,626.7 1055.3,621.3 1050,617.3 1044.7,616 1039.3,614.7 1034,613.3 1032.7,610.7 1028.7,606.7 1024.7,609.3 1023.3,604 1020.7,597.3 1020.7,592" fill="#FE9929"/>
<polygon points="1056.7,610.7 1059.3,605.3 1063.3,604 1068.7,602.7 1074,600 1079.3,598.7 1083.3,602.7 1082,608 1078,612 1075.3,617.3 1074,624 1072.7,629.3 1066,630.7 1060.7,629.3 1056.7,626.7 1060.7,624 1062,618.7 1060.7,614.7" fill="#FECE65"/>
<polygon points="1066,597.3 1068.7,592 1072.7,588 1076.7,584 1082,581.3 1086,581.3 1084.7,585.3 1090,589.3 1094,593.3 1090,597.3 1086,600 1083.3,602.7 1079.3,598.7 1074,600 1071.3,598.7" fill="#FE9929"/>
<polygon points="1083.3,602.7 1086,600 1090,597.3 1094,593.3 1100.7,596 1108.7,600 1111.3,608 1115.3,616 1119.3,624 1122,632 1124.7,640 1126,648 1074,648 1072.7,629.3 1074,624 1075.3,617.3 1078,612 1082,608" fill="#F27E1B"/>
<polygon points="1083.3,626.7 1087.3,624 1092.7,624 1095.3,629.3 1096.7,636 1098,640 1098,648 1086,648 1086,640 1084.7,633.3" fill="#CC4C02"/>
<polygon points="900.7,620 903.3,614.7 906,612 910,613.3 915.3,614.7 919.3,618.7 923.3,618.7 928.7,614.7 932.7,610.7 936.7,605.3 939.3,600 942,594.7 940.7,589.3 944.7,585.3 950,584 956.7,584 963.3,582.7 970,580 986,580 988.7,584 994,585.3 998,589.3 1000.7,593.3 1007.3,594 1016.7,593.3 1020.7,590.7 1022,586.7 1030,585.3 1030,681.3 1020.7,682.7 1014,685.3 1010,681.3 1003.3,677.3 998,674.7 995.3,670.7 990,672 983.3,670.7 979.3,666.7 974,665.3 968.7,664 963.3,660 962,654.7 962,649.3 956.7,652 951.3,649.3 944.7,650 936.7,649.3 931.3,650.7 926,649.3 920.7,646.7 915.3,644 911.3,644 906,636 900.7,629.3" fill="#FE9929"/>
<polygon points="828.7,578.7 883.3,578.7 883.3,588 884.7,593.3 887.3,598.7 891.3,606.7 894,613.3 900.7,620 900.7,629.3 894,630.7 887.3,629.3 880.7,631.3 874,629.3 866,630 856.7,626.7 850,624 843.3,620 838,614.7 828.7,614.7" fill="#FEB642"/>
<polygon points="850,600 856.7,593.3 864.7,590.7 866,597.3 871.3,604 868.7,609.3 862,610.7 854,613.3 847.3,616 843.3,612 838,609.3 832.7,606.7 828.7,605.3 828.7,602.7 838,602.7" fill="#FE9929"/>
<polygon points="846,578.7 860.7,578.7 860,582.7 855.3,586.7 850,586 846.7,582.7" fill="#CC4C02"/>
<polygon points="828.7,614.7 838,613.3 846,618.7 852.7,616 850,621.3 847.3,625.3 856.7,626.7 866,630 872.7,632 874,636 880.7,638.7 881.3,642.7 876.7,645.3 870,644 867.3,649.3 868.7,656 867.3,661.3 868.7,666.7 862,667.3 856.7,662.7 850,658.7 843.3,654.7 836.7,653.3 828.7,654" fill="#F27E1B"/>
<polygon points="866,630 874,629.3 880.7,631.3 887.3,629.3 894,630.7 900.7,629.3 906,636 911.3,644 907.3,649.3 904.7,654.7 900.7,658.7 899.3,662.7 892.7,664 886,665.3 880.7,669.3 876.7,672 871.3,669.3 868.7,666.7 867.3,661.3 868.7,656 867.3,649.3 870,644 876.7,645.3 881.3,642.7 880.7,638.7 874,636 872.7,632" fill="#E1640E"/>
<polygon points="880.7,676 883.3,676 888.7,674.7 894,672 898,669.3 900.7,672 904.7,673.3 910,674.7 916.7,677.3 920.7,682.7 923.3,689.3 922,696 918,701.3 912.7,704 907.3,708 910,710.7 915.3,713.3 920.7,714.7 926,718.7 930,721.3 934,720 939.3,718.7 943.3,717.3 943.3,722.7 947.3,725.3 952.7,720 956.7,716 959.3,713.3 963.3,708 967.3,713.3 967.3,740 1030,740 1030,788 854,788 863.3,758.7 860.7,753.3 862,740 860.7,733.3 856.7,726.7 852.7,722.7 848.7,717.3 844.7,714.7 846,708 843.3,702.7 843.3,698.7 847.3,697.3 851.3,697.3 856.7,694.7 860.7,697.3 866,696 871.3,692 876.7,689.3 880.7,688 881.3,682.7" fill="#FFFACA"/>
<polygon points="878,672 880.7,669.3 886,665.3 892.7,664 896.7,665.3 898,669.3 894,672 888.7,674.7 883.3,676 880.7,676" fill="#D9D9D9"/>
<polygon points="828.7,654 836.7,653.3 843.3,654.7 850,658.7 856.7,662.7 862,667.3 868.7,666.7 871.3,669.3 876.7,672 880.7,676 881.3,682.7 880.7,688 876.7,689.3 871.3,692 866,696 860.7,697.3 856.7,694.7 851.3,697.3 847.3,697.3 843.3,698.7 842,696 844.7,692 842,686.7 838,684 834,688 828.7,689.3" fill="#FFF0AE"/>
<polygon points="828.7,689.3 834,688 838,684 842,686.7 844.7,692 842,696 838,700 834,708 834,716 832.7,724 835.3,729.3 838,734.7 835.3,734.7 828.7,734.7" fill="#FFF0AE"/>
<polygon points="834,708 838,700 842,697.3 844.7,704 843.3,710.7 844.7,714.7 848.7,717.3 852.7,722.7 856.7,726.7 860.7,733.3 862,740 861.3,748 860.7,753.3 855.3,758.7 851.3,756 847.3,752 844.7,746.7 842,742.7 840.7,737.3 838,734.7 835.3,729.3 832.7,724 834,716" fill="#D9D9D9"/>
<polygon points="828.7,734.7 835.3,734.7 839.3,736 842,742.7 844.7,746.7 847.3,752 851.3,756 855.3,758.7 860.7,753.3 863.3,758.7 864.7,766.7 866,772 862,776 856.7,778.7 854,780 854,788 828.7,788" fill="#FE9929"/>
<polygon points="843.3,776 848.7,774 855.3,774.7 856.7,778.7 854,781.3 843.3,781.3" fill="#D9D9D9"/>
<polygon points="883.3,578.7 924.7,578.7 922,582.7 918,585.3 912.7,588 904.7,589.3 899.3,591.3 892.7,592.7 884.7,593.3 883.3,588" fill="#FEE391"/>
<polygon points="887.3,594.7 892.7,592.7 899.3,591.3 904.7,589.3 912.7,588 918,585.3 920.7,582.7 922,588 920.7,592 915.3,593.3 910,594.7 906,597.3 903.3,601.3 904.7,605.3 907.3,608 906,612 903.3,614.7 900.7,618.7 896.7,616 894,613.3 891.3,606.7 887.3,598.7" fill="#AA3C03"/>
<polygon points="926,578.7 938,578.7 938,582.7 934,584.7 928.7,584" fill="#882F05"/>
<polygon points="903.3,601.3 906,597.3 910,594.7 915.3,593.3 920.7,592 922,588 927.3,586.7 934,586.7 940.7,589.3 942,594.7 939.3,600 936.7,605.3 932.7,610.7 928.7,614.7 923.3,618.7 919.3,618.7 915.3,614.7 910,613.3 906,612 907.3,608 904.7,605.3" fill="#FECE65"/>
<polygon points="942,594.7 940.7,589.3 944.7,585.3 950,584 956.7,584 963.3,582.7 970,584 976.7,585.3 983.3,588 987.3,592 988.7,597.3 991.3,604 994,609.3 998,613.3 1002,614.7 1002,620 996.7,621.3 995.3,628 990,630.7 986,629.3 980.7,624 976.7,620 974,614.7 972.7,609.3 974,604 970,601.3 963.3,600 956.7,598.7 950,600 946,602.7 942,600" fill="#F27E1B"/>
<polygon points="947.3,633.3 950,626.7 956.7,624 958,617.3 955.3,610.7 950,606.7 946,602.7 950,600 956.7,598.7 963.3,600 970,601.3 974,604 972.7,609.3 974,614.7 976.7,620 980.7,624 986,629.3 990,630.7 987.3,636 990,642.7 983.3,644 980.7,649.3 976.7,650.7 971.3,648 966,645.3 960.7,644 955.3,644 950,641.3 948.7,637.3" fill="#FEB642"/>
<polygon points="1003.3,608 1008.7,606.7 1012.7,610.7 1014,616 1019.3,614.7 1023.3,613.3 1030,609.3 1031.3,636 1027.3,633.3 1024.7,626.7 1022,620 1016.7,618.7 1011.3,621.3 1008.7,617.3 1003.3,620 1002,614.7" fill="#E1640E"/>
<polygon points="1023.3,613.3 1030,609.3 1031.3,622.7 1027.3,621.3 1024.7,618.7" fill="#CC4C02"/>
<polygon points="911.3,644 915.3,644 920.7,646.7 926,649.3 931.3,650.7 936.7,649.3 944.7,650 951.3,649.3 956.7,652 962,649.3 962,654.7 963.3,660 968.7,664 967.3,670.7 963.3,673.3 960.7,678.7 958,682.7 955.3,686.7 958,692 962,696 964.7,700 967.3,705.3 963.3,708 959.3,713.3 956.7,716 952.7,720 947.3,725.3 943.3,722.7 943.3,717.3 939.3,718.7 934,720 930,721.3 926,718.7 920.7,714.7 915.3,713.3 910,710.7 907.3,708 912.7,704 918,701.3 922,696 923.3,689.3 920.7,682.7 916.7,677.3 910,674.7 904.7,673.3 900.7,672 898,669.3 896.7,665.3 899.3,662.7 900.7,658.7 904.7,654.7 907.3,649.3" fill="#FEE391"/>
<polygon points="911.3,644 915.3,644 920.7,646.7 926,649.3 931.3,650.7 936.7,649.3 944.7,650 946,654.7 943.3,660 939.3,665.3 936.7,672 926,673.3 922,676 916.7,677.3 910,674.7 904.7,673.3 900.7,672 898,669.3 896.7,665.3 899.3,662.7 900.7,658.7 904.7,654.7 907.3,649.3" fill="#FFF0AE"/>
<polygon points="952.7,676 958,673.3 963.3,673.3 968.7,672 971.3,676 970,681.3 968.7,686.7 966,692 963.3,696 959.3,698.7 955.3,700 950,698.7 944.7,697.3 940.7,694.7 936.7,693.3 940.7,690.7 947.3,689.3 952.7,686.7 955.3,681.3" fill="#FEB642"/>
<polygon points="936.7,693.3 940.7,690.7 947.3,689.3 952.7,686.7 954.7,690.7 955.3,700 950,698.7 944.7,697.3 940.7,694.7" fill="#FE9929"/>
<polygon points="968.7,664 974,665.3 979.3,666.7 983.3,670.7 990,672 995.3,670.7 998,674.7 1003.3,677.3 1010,681.3 1014,685.3 1010,689.3 1007.3,693.3 1010,698.7 1012.7,704 1015.3,709.3 1015.3,714.7 1008.7,716 1003.3,716 998,718.7 994,721.3 988.7,721.3 986,717.3 982,713.3 976.7,710.7 971.3,708 967.3,705.3 964.7,700 962,696 966,692 968.7,686.7 970,681.3 971.3,676 968.7,672" fill="#FECE65"/>
<polygon points="980.7,696 986,694.7 990,700 994,704 998,708 1000.7,713.3 998,718.7 994,720 988.7,718.7 983.3,714.7 980.7,709.3 978.7,704" fill="#FFFACA"/>
<polygon points="958,716 963.3,708 967.3,705.3 971.3,708 976.7,710.7 982,713.3 986,717.3 988.7,721.3 986,724 980.7,725.3 975.3,728 970,730.7 966,734.7 962,733.3 959.3,729.3 960.7,724 962,720" fill="#FE9929"/>
<polygon points="1014,685.3 1020.7,682.7 1030,681.3 1031.3,713.3 1026,713.3 1020.7,714.7 1015.3,714.7 1015.3,709.3 1012.7,704 1010,698.7 1007.3,693.3 1010,689.3" fill="#FECE65"/>
<polygon points="880.7,752 886,744 892.7,740 899.3,733.3 904.7,726.7 910,721.3 916.7,718.7 923.3,720 928.7,724 928.7,730.7 927.3,737.3 928.7,742.7 923.3,745.3 916.7,746.7 910,749.3 903.3,750.7 896.7,752 894,757.3 888.7,758.7 883.3,757.3" fill="#FFFFE5"/>
<polygon points="894,757.3 896.7,752 903.3,750.7 910,749.3 916.7,746.7 923.3,745.3 928.7,742.7 927.3,737.3 928.7,730.7 928.7,724 934,721.3 939.3,720 943.3,722.7 947.3,725.3 952.7,721.3 956.7,725.3 959.3,730.7 963.3,734.7 967.3,738.7 971.3,744 972.7,752 970,756 966,760 962,764 958,766.7 952.7,762.7 947.3,760 942,761.3 936.7,760 931.3,758.7 926,760 920.7,761.3 915.3,758.7 910,757.3 904.7,758.7 899.3,761.3 896.7,758.7" fill="#FFF0AE"/>
<polygon points="946,764 950,761.3 955.3,764 958,766.7 958,773.3 956.7,781.3 946,781.3 944.7,772" fill="#FECE65"/>
<polygon points="966,734.7 970,730.7 975.3,728 980.7,725.3 986,724 988.7,721.3 994,721.3 998,718.7 1003.3,716 1008.7,716 1015.3,714.7 1020.7,714.7 1026,713.3 1031.3,713.3 1031.3,740 1024.7,741.3 1016.7,740 1008.7,738.7 1000.7,741.3 992.7,740 984.7,737.3 976.7,740 971.3,744 967.3,738.7" fill="#FEE391"/>
<polygon points="1020.7,726.7 1024.7,721.3 1031.3,718.7 1031.3,752 1024.7,749.3 1022,742.7 1019.3,734.7" fill="#FEB642"/>
<polygon points="978,762.7 983.3,759.3 992.7,760 993.3,764.7 998,765.3 992.7,768 986,769.3 980.7,773.3 978.7,769.3" fill="#D9D9D9"/>
<polygon points="1075.3,608.7 1114,608.7 1118,618 1122,627.3 1124.7,635.3 1125.3,642 1131.3,646 1136,650 1138,655.3 1143.3,659.3 1146,663.3 1151.3,674 1151.3,692.7 1130,695.3 1112.7,691.3 1108.7,687.3 1103.3,680.7 1098,682 1092.7,680.7 1090,676.7 1084.7,678 1079.3,676.7 1076.7,672.7 1074,667.3 1068.7,666 1066,660.7 1068.7,655.3 1072.7,651.3 1071.3,646 1075.3,643.3 1080.7,644.7 1084,642 1082,636.7 1078,635.3 1075.3,639.3 1070,642 1064.7,640.7 1062,635.3 1062,630 1058,628.7 1060.7,623.3 1062,616.7 1066,615.3 1071.3,614" fill="#F27E1B"/>
<polygon points="1060.7,608.7 1075.3,608.7 1072.7,616.7 1070,623.3 1066,628.7 1062,630 1058,628.7 1060.7,623.3 1062,616.7" fill="#FECE65"/>
<polygon points="1083.3,627.3 1090,623.3 1094,627.3 1095.3,634 1098,640.7 1099.3,647.3 1098,651.3 1092.7,652.7 1087.3,652.7 1082,654 1079.3,651.3 1082,647.3 1084.7,643.3 1084,642 1086,636.7 1084.7,631.3" fill="#CC4C02"/>
<polygon points="1094,627.3 1100.7,630 1107.3,632.7 1108.7,638 1106,643.3 1108.7,650 1111.3,655.3 1114,659.3 1115.3,666 1112.7,672.7 1108.7,675.3 1104.7,672.7 1103.3,667.3 1102,662 1100.7,656.7 1099.3,651.3 1099.3,647.3 1098,640.7 1095.3,634" fill="#E1640E"/>
<polygon points="1066,660.7 1068.7,655.3 1072.7,651.3 1076.7,650 1079.3,651.3 1082,654 1080.7,659.3 1079.3,664.7 1082,670 1084.7,674 1084,678 1079.3,676.7 1076.7,672.7 1074,667.3 1068.7,666" fill="#E1640E"/>
<polygon points="1079.3,655.3 1084.7,654 1090,652.7 1096.7,652.7 1099.3,656.7 1100.7,662 1103.3,666 1104.7,670 1102,672.7 1098,671.3 1094,670 1090,671.3 1086,670 1083.3,666 1080.7,662" fill="#FEB642"/>
<polygon points="1083.3,666 1086,670 1090,671.3 1094,670 1098,671.3 1102,672.7 1103.3,676.7 1098,679.3 1092.7,679.3 1087.3,678 1084.7,674" fill="#FE9929"/>
<polygon points="1091.3,672.7 1095.3,670.7 1100.7,672 1103.3,676.7 1100.7,680 1095.3,680.7 1092,678" fill="#E1640E"/>
<polygon points="1103.3,680.7 1108.7,678 1112.7,674 1114,668.7 1111.3,663.3 1114,659.3 1119.3,660.7 1124.7,663.3 1128.7,666 1131.3,670 1135.3,674 1140.7,676.7 1147.3,680.7 1149.3,688.7 1147.3,692 1138,692 1131.3,694.7 1128.7,690 1124.7,687.3 1123.3,682 1118,684.7 1114,688.7 1112.7,691.3 1108.7,687.3 1106,684.7" fill="#FEB642"/>
<polygon points="1127.3,664.7 1132.7,662.7 1138,666.7 1143.3,670.7 1148.7,674 1142,674 1136.7,670.7 1132.7,668" fill="#FEB642"/>
<polygon points="1008.7,608.7 1051.3,608.7 1054,615.3 1060.7,616 1062,616.7 1060.7,623.3 1058,628.7 1062,630 1062,635.3 1064.7,640.7 1070,642 1072.7,644.7 1071.3,646 1072.7,651.3 1068.7,655.3 1066,660.7 1060.7,662 1056.7,663.3 1055.3,668.7 1058,672.7 1063.3,672.7 1067.3,675.3 1071.3,678 1072.7,682 1068.7,686 1064.7,690 1060.7,690 1056.7,688.7 1050,690 1043.3,691.3 1038,690 1036.7,686 1038,682 1035.3,678 1030,676.7 1023.3,679.3 1018,682 1008.7,683.3" fill="#E1640E"/>
<polygon points="1027.3,611.3 1032.7,608.7 1051.3,608.7 1054,615.3 1059.3,616.7 1058,622 1055.3,626 1050,624.7 1044.7,623.3 1039.3,623.3 1035.3,626 1031.3,623.3 1030,618" fill="#FE9929"/>
<polygon points="1023.3,614 1027.3,611.3 1030,618 1031.3,623.3 1035.3,626 1039.3,623.3 1044.7,623.3 1050,624.7 1055.3,626 1058,630 1055.3,634 1050,635.3 1043.3,636.7 1038,639.3 1034,640.7 1030,636.7 1028.7,631.3 1026,627.3 1023.3,622" fill="#CC4C02"/>
<polygon points="1030,648.7 1034,643.3 1038,639.3 1043.3,636.7 1050,635.3 1055.3,634 1060.7,632.7 1064.7,640.7 1070,642 1072.7,644.7 1071.3,650 1068.7,655.3 1066,660.7 1060.7,662 1056.7,663.3 1055.3,668.7 1050,671.3 1044.7,674 1039.3,675.3 1035.3,678 1031.3,674 1028.7,668.7 1030,663.3 1027.3,659.3 1024.7,654" fill="#F27E1B"/>
<polygon points="1055.3,668.7 1056.7,663.3 1060.7,662 1066,660.7 1068.7,666 1074,667.3 1076.7,672.7 1074,676.7 1068.7,675.3 1064.7,672.7 1060.7,672.7 1058,672.7" fill="#FECE65"/>
<polygon points="1036.7,686 1042,684.7 1047.3,685.3 1051.3,683.3 1055.3,682.7 1059.3,684.7 1060.7,687.3 1056.7,690 1051.3,691.3 1046,692.7 1040.7,694 1037.3,691.3" fill="#AA3C03"/>
<polygon points="1008.7,683.3 1018,682 1023.3,679.3 1030,676.7 1035.3,678 1038,682 1036.7,686 1037.3,691.3 1040.7,694 1036.7,698 1032.7,700.7 1031.3,706 1030,710 1026,712.7 1020.7,714 1015.3,715.3 1008.7,716.7" fill="#FEB642"/>
<polygon points="1027.3,719.3 1030,710 1031.3,706 1032.7,700.7 1036.7,698 1040.7,694 1046,692.7 1051.3,691.3 1056.7,690 1059.3,692.7 1056.7,696.7 1054,702 1050,706 1044.7,708.7 1040.7,711.3 1038,714 1035.3,718 1031.3,721.3 1028.7,722" fill="#D9D9D9"/>
<polygon points="1059.3,692.7 1064.7,690 1068.7,686 1072.7,682 1076.7,679.3 1082,678.7 1087.3,679.3 1092.7,682 1094,686 1091.3,690 1088.7,694 1087.3,698 1086,702 1082,703.3 1078,702 1076.7,706 1074,708.7 1070,711.3 1067.3,708.7 1064.7,704.7 1062,700.7 1056.7,696.7" fill="#FFFFE5"/>
<polygon points="1038,714 1040.7,711.3 1044.7,708.7 1050,706 1054,702 1056.7,696.7 1062,700.7 1064.7,704.7 1067.3,708.7 1070,711.3 1074,708.7 1076.7,706 1078,702 1078,708.7 1076.7,715.3 1072.7,720.7 1067.3,723.3 1062,726 1059.3,722 1055.3,722 1048.7,722 1046,719.3 1042,715.3" fill="#FEE391"/>
<polygon points="1062,726 1067.3,723.3 1072.7,720.7 1076.7,715.3 1078,708.7 1078,702 1082,703.3 1086,702 1087.3,698 1092.7,699.3 1098,696.7 1103.3,698 1108.7,699.3 1114,702 1118,703.3 1114,707.3 1108.7,710 1103.3,714 1102,719.3 1106,723.3 1111.3,727.3 1116.7,728.7 1114,734 1110,738 1104.7,742 1099.3,744.7 1095.3,747.3 1091.3,746 1087.3,740.7 1086,735.3 1082,730 1076.7,727.3 1071.3,728.7 1066,727.3" fill="#FEE391"/>
<polygon points="1087.3,698 1088.7,694 1091.3,690 1094,686 1095.3,682 1100.7,682 1103.3,684.7 1106,687.3 1108.7,690 1112.7,691.3 1111.3,695.3 1108.7,699.3 1103.3,698 1098,696.7 1092.7,699.3" fill="#FE9929"/>
<polygon points="1112.7,691.3 1114,688.7 1118,684.7 1123.3,682 1124.7,687.3 1128.7,690 1131.3,694.7 1126.7,698 1123.3,700.7 1119.3,703.3 1114,702 1108.7,699.3 1111.3,695.3" fill="#FEB642"/>
<polygon points="1102,719.3 1103.3,714 1108.7,710 1114,707.3 1118,703.3 1123.3,700.7 1126.7,696.7 1130,700.7 1135.3,703.3 1140.7,710 1144.7,715.3 1150,718 1150,735.3 1142,734 1138,731.3 1132.7,728.7 1127.3,727.3 1122,728.7 1116.7,728.7 1111.3,727.3 1106,723.3" fill="#FECE65"/>
<polygon points="1110,738 1114,734 1116.7,728.7 1122,728.7 1127.3,727.3 1132.7,728.7 1138,731.3 1142,734 1140.7,739.3 1141.3,748.7 1139.3,755.3 1132.7,758 1127.3,762 1123.3,759.3 1119.3,754 1115.3,750 1111.3,748.7 1108.7,744.7" fill="#FFFFE5"/>
<polygon points="1074,750 1078,746 1082,743.3 1087.3,740.7 1091.3,746 1095.3,747.3 1099.3,744.7 1104.7,742 1108.7,744.7 1111.3,748.7 1115.3,750 1119.3,754 1123.3,759.3 1127.3,762 1124.7,764.7 1120.7,770 1116.7,775.3 1115.3,782 1111.3,779.3 1106,778 1100.7,779.3 1096.7,776.7 1094,771.3 1090,774 1084.7,776.7 1079.3,775.3 1078,770 1076.7,764.7 1074,759.3 1075.3,755.3" fill="#FFF0AE"/>
<polygon points="1096.7,756.7 1103.3,751.3 1108.7,744.7 1111.3,748.7 1115.3,750 1119.3,754 1123.3,759.3 1127.3,763.3 1124.7,766 1120.7,771.3 1116.7,776.7 1115.3,782 1111.3,779.3 1106,778 1103.3,772.7 1102,766 1098,762" fill="#FFFACA"/>
<polygon points="1059.3,730 1062,726 1066,727.3 1071.3,728.7 1076.7,727.3 1082,730 1086,735.3 1087.3,740.7 1082,743.3 1078,746 1074,750 1068.7,754 1067.3,748.7 1064.7,743.3 1062,738 1059.3,734" fill="#FECE65"/>
<polygon points="1070,802 1071.3,795.3 1075.3,790 1079.3,786 1084.7,782 1090,779.3 1094,776.7 1096.7,776.7 1100.7,779.3 1106,778 1111.3,779.3 1112.7,786 1107.3,792.7 1104.7,798 1099.3,795.3 1094,798 1088.7,800.7 1083.3,803.3 1078,803.3 1074,806" fill="#FECE65"/>
<polygon points="1018,739.3 1022,734 1024.7,727.3 1023.3,722 1027.3,719.3 1031.3,721.3 1035.3,718 1038,714 1042,715.3 1046,719.3 1048.7,722 1055.3,722 1059.3,722 1062,726 1059.3,730 1059.3,734 1062,738 1064.7,743.3 1067.3,748.7 1068.7,754 1064.7,756.7 1060.7,760.7 1055.3,762 1051.3,766 1047.3,763.3 1042,764.7 1036.7,764.7 1032.7,762 1030,756.7 1026,751.3 1023.3,746" fill="#FEB642"/>
<polygon points="1035.3,716.7 1038,714.7 1043.3,715.3 1046,719.3 1047.3,723.3 1044.7,727.3 1046,732.7 1046,739.3 1042,742 1038,742.7 1034,739.3 1034.7,734 1035.3,727.3 1036,722" fill="#882F05"/>
<polygon points="1030,756.7 1032.7,750 1036.7,747.3 1040.7,748.7 1042,754 1042,764.7 1036.7,764.7 1032.7,762" fill="#FECE65"/>
<polygon points="1008.7,716.7 1015.3,715.3 1020.7,714 1026,712.7 1030,710 1027.3,719.3 1023.3,722 1024.7,727.3 1022,734 1018,739.3 1014,742 1008.7,743.3" fill="#FECE65"/>
<polygon points="738.3,638.3 790,640 813.3,645 820,648.3 826.7,651.7 833.3,655 840,658.3 845,666.7 841.7,670 836.7,675 833.3,681.7 830,688.3 823.3,690 821.7,695 816.7,701.7 811.7,708.3 806.7,710 803.3,705 796.7,705 790,703.3 783.3,701.7 778.3,706.7 781.7,710 780,716.7 773.3,721.7 775,726.7 773.3,733.3 770,740 773.3,750 780,770 795,766.7 798.3,781.7 791.7,795 783.3,801.7 776.7,806.7 771.7,815 756.7,801.7 740,800 738.3,740" fill="#FEE391"/>
<polygon points="813.3,661.7 820,656.7 826.7,656.7 833.3,658.3 840,661.7 843.3,666.7 838.3,673.3 835,680 831.7,686.7 825,690 821.7,695 816.7,701.7 811.7,708.3 806.7,710 803.3,705 806.7,698.3 811.7,693.3 816.7,688.3 820,681.7 818.3,673.3 815,666.7" fill="#FFF0AE"/>
<polygon points="738.3,670 746.7,673.3 753.3,678.3 760,685 766.7,691.7 765,696.7 758.3,693.3 751.7,688.3 745,683.3 738.3,680" fill="#FFFFE5"/>
<polygon points="776.7,671.7 783.3,668.3 790,665 796.7,666.7 803.3,671.7 808.3,676.7 808.3,683.3 803.3,688.3 796.7,691.7 790,695 785,696.7 781.7,690 780,681.7" fill="#FEB642"/>
<polygon points="750,713.3 753.3,711.7 761.7,716.7 768.3,720 773.3,721.7 775,726.7 773.3,733.3 770,740 763.3,740 756.7,736.7 750,740 748.3,733.3 751.7,723.3" fill="#FECE65"/>
<polygon points="840,658.3 843.3,655 850,656.7 856.7,661.7 863.3,666.7 871.7,670 876.7,671.7 881.7,676.7 881.7,681.7 878.3,688.3 871.7,688.3 865,691.7 856.7,695 848.3,696.7 843.3,700 845,706.7 843.3,715 848.3,718.3 853.3,725 858.3,730 861.7,735 860,741.7 861.7,748.3 863.3,755 860,753.3 855,756.7 848.3,751.7 843.3,746.7 840,740 836.7,736.7 833.3,736.7 826.7,733.3 820,733.3 818.3,740 810,741.7 803.3,748.3 796.7,750 790,746.7 785,745 780,750 783.3,743.3 778.3,738.3 773.3,733.3 775,726.7 773.3,721.7 780,716.7 781.7,710 778.3,706.7 783.3,701.7 790,703.3 796.7,705 803.3,705 806.7,710 811.7,708.3 816.7,701.7 821.7,695 823.3,690 830,688.3 833.3,681.7 836.7,675 841.7,670 845,666.7" fill="#FFFACA"/>
<polygon points="840,658.3 843.3,655 850,656.7 856.7,661.7 863.3,666.7 871.7,670 876.7,671.7 881.7,676.7 881.7,681.7 878.3,688.3 871.7,688.3 865,691.7 856.7,695 848.3,696.7 843.3,700 838.3,696.7 833.3,695 830,688.3 833.3,681.7 836.7,675 841.7,670 845,666.7" fill="#FFF0AE"/>
<polygon points="786.7,698.3 791.7,693.3 798.3,691.7 806.7,695 813.3,700 811.7,708.3 806.7,710 803.3,705 796.7,705 790,703.3" fill="#FFFFE5"/>
<polygon points="793.3,716.7 798.3,711.7 805,710 810,715 810,723.3 806.7,730 800,731.7 795,726.7" fill="#FEE391"/>
<polygon points="833.3,710 836.7,701.7 841.7,700 845,706.7 843.3,715 848.3,718.3 853.3,725 858.3,730 861.7,735 860,741.7 861.7,748.3 863.3,755 860,753.3 855,756.7 848.3,751.7 843.3,746.7 840,740 836.7,735 835,728.3 831.7,721.7 832.5,715" fill="#D9D9D9"/>
<polygon points="780,750 785,745 790,746.7 796.7,750 803.3,748.3 810,741.7 818.3,740 820,733.3 826.7,733.3 833.3,736.7 836.7,736.7 835,743.3 830.8,750 828.3,756.7 830,766.7 826.7,775 821.7,778.3 815,778.3 806.7,778.3 798.3,781.7 795,775 795,766.7 791.7,761.7 785,756.7" fill="#FECE65"/>
<polygon points="770,740 773.3,733.3 778.3,738.3 783.3,743.3 780,750 785,756.7 791.7,761.7 795,766.7 786.7,768.3 780,770 773.3,766.7 771.7,760 771.7,750" fill="#FECE65"/>
<polygon points="828.3,756.7 830.8,750 835,743.3 836.7,736.7 840,740 843.3,746.7 848.3,751.7 855,756.7 860,753.3 863.3,760 863.3,766.7 865.8,771.7 860,775 855,778.3 851.7,781.7 850,776.7 843.3,775 836.7,778.3 830,778.3 826.7,775 830,766.7" fill="#FE9929"/>
<polygon points="791.7,795 796.7,788.3 798.3,781.7 806.7,778.3 815,778.3 813.3,786.7 810,793.3 806.7,798.3 803.3,805 796.7,803.3 793.3,800" fill="#FEB642"/>
<polygon points="771.7,815 776.7,806.7 783.3,801.7 791.7,795 793.3,800 796.7,803.3 803.3,805 798.3,810 795,815 796.7,823.3 796.7,830 790,828.3 783.3,823.3 776.7,820" fill="#FECE65"/>
<polygon points="793.3,813.3 796.7,806.7 806.7,803.3 810,793.3 815,785 818.3,780 825,778.3 830,778.3 836.7,778.3 830,783.3 825,790 818.3,800 821.7,802.5 828.3,803.3 833.3,808.3 838.3,813.3 836.7,820 840,825 835,830 828.3,835 823.3,830 816.7,825 810,826.7 803.3,831.7 798.3,828.3 796.7,823.3 795,816.7" fill="#FFFFE5"/>
<polygon points="818.3,800 825,790 830,783.3 836.7,778.3 843.3,775 850,776.7 851.7,781.7 856.7,785 863.3,783.3 866.7,786.7 865,795 863.3,803.3 866.7,811.7 863.3,816.7 858.3,820 855,821.7 848.3,823.3 843.3,828.3 840,825 836.7,820 838.3,813.3 833.3,808.3 828.3,803.3 821.7,802.5" fill="#D9D9D9"/>
<polygon points="738.3,800 745,796.7 751.7,798.3 756.7,801.7 758.3,808.3 755,815 751.7,821.7 756.7,828.3 760,833.3 756.7,840 755,846.7 750,853.3 738.3,853.3" fill="#FECE65"/>
<polygon points="756.7,801.7 761.7,793.3 768.3,790 775,793.3 780,800 776.7,806.7 771.7,815 776.7,820 783.3,823.3 790,828.3 796.7,830 798.3,828.3 803.3,831.7 796.7,836.7 790,841.7 786.7,846.7 778.3,843.3 771.7,845 768.3,840 761.7,843.3 755,846.7 756.7,840 760,833.3 756.7,828.3 751.7,821.7 755,815 758.3,808.3" fill="#FFF0AE"/>
<polygon points="803.3,843.3 806.7,836.7 810,826.7 816.7,825 823.3,830 828.3,835 835,830 840,825 843.3,828.3 848.3,833.3 855,838.3 856.7,843.3 853.3,850 850,856.7 845,861.7 838.3,865 833.3,870 826.7,873.3 820,868.3 813.3,863.3 808.3,861.7 806.7,853.3 803.3,848.3" fill="#FECE65"/>
<polygon points="755,846.7 761.7,843.3 768.3,840 771.7,845 778.3,843.3 786.7,846.7 790,841.7 796.7,836.7 803.3,831.7 806.7,836.7 803.3,843.3 803.3,848.3 806.7,853.3 808.3,861.7 813.3,863.3 820,868.3 826.7,873.3 823.3,878.3 818.3,881.7 810,883.3 803.3,891.7 781.7,891.7 780,885 790,876.7 791.7,868.3 788.3,863.3 780,861.7 773.3,861.7 770,855 760,855 756.7,851.7" fill="#D9D9D9"/>
<polygon points="843.3,863.3 850,856.7 853.3,850 860,858.3 865,865 871.7,861.7 878.3,856.7 885,853.3 890,861.7 896.7,868.3 900,863.3 898.3,856.7 900,850 903.3,840 906.7,836.7 910,843.3 916.7,845 921.7,848.3 923.3,855 920,861.7 915,868.3 913.3,873.3 908.3,880 906.7,885 900,873.3 893.3,870 890,876.7 890,885 886.7,891.7 843.3,891.7 841.7,881.7 845,873.3" fill="#D9D9D9"/>
<polygon points="881.7,740 886.7,735 893.3,733.3 900,730 906.7,723.3 905,716.7 896.7,708.3 906.7,710 915,711.7 921.7,715 928.3,720 928.3,730 926.7,740 920,743.3 913.3,746.7 906.7,748.3 900,750 895,755 900,760 906.7,758.3 916.7,760 923.3,763.3 931.7,761.7 940,763.3 945,763.3 945,771.7 948.3,778.3 940,778.3 931.7,780 923.3,783.3 916.7,786.7 911.7,790 906.7,796.7 903.3,803.3 896.7,801.7 890,805 885,810 880,811.7 873.3,813.3 868.3,811.7 865,803.3 863.3,795 866.7,786.7 866.7,780 865.8,771.7 870,766.7 873.3,763.3 878.3,760 881.7,753.3 880,746.7" fill="#FFFFE5"/>
<polygon points="895,755 900,750 906.7,748.3 913.3,746.7 920,743.3 926.7,740 928.3,733.3 936.7,730 945,723.3 951.7,720 958.3,716.7 960,728.3 961.7,735 970,738.3 971.7,746.7 973.3,753.3 968.3,756.7 963.3,760 956.7,763.3 950,761.7 945,763.3 940,763.3 931.7,761.7 923.3,763.3 916.7,760 906.7,758.3 900,760" fill="#FFF0AE"/>
<polygon points="945,763.3 950,761.7 956.7,763.3 960,770 961.7,778.3 965,786.7 968.3,795 970,803.3 971.7,810 968.3,815 966.7,823.3 961.7,830 955,828.3 948.3,826.7 943.3,833.3 941.7,840 936.7,835 931.7,830 928.3,821.7 928.3,813.3 931.7,808.3 940,808.3 948.3,806.7 950,798.3 948.3,790 951.7,785 948.3,778.3 945,771.7" fill="#FECE65"/>
<polygon points="928.3,813.3 931.7,808.3 940,808.3 948.3,806.7 950,798.3 948.3,791.7 955,796.7 960,803.3 963.3,810 970,808.3 968.3,815 966.7,823.3 961.7,830 955,828.3 948.3,826.7 943.3,833.3 941.7,840 936.7,835 931.7,830 928.3,821.7" fill="#FEB642"/>
<polygon points="790,638.3 813.3,645 820,648.3 826.7,651.7 833.3,655 840,653.3 846.7,656.7 856.7,661.7 863.3,666.7 868.3,666.7 867.5,656.7 868.3,648.3 873.3,645 881.7,638.3" fill="#F27E1B"/>
<polygon points="868.3,666.7 867.5,656.7 868.3,648.3 873.3,645 881.7,638.3 910,638.3 911.7,645 905,653.3 901.7,658.3 900,663.3 893.3,665 886.7,665 881.7,668.3 876.7,671.7 871.7,670" fill="#E1640E"/>
<polygon points="878.3,671.7 883.3,666.7 890,664.2 896.7,665 898.3,670 893.3,673.3 886.7,675 881.7,676.7" fill="#D9D9D9"/>
<polygon points="911.7,645 916.7,646.7 923.3,648.3 931.7,650 940,648.3 950,650 956.7,651.7 961.7,650 963.3,656.7 968.3,663.3 973.3,665 978.3,668.3 985,671.7 991.7,673.3 991.7,723.3 981.7,723.3 973.3,720 965,723.3 958.3,716.7 951.7,720 945,723.3 943.3,716.7 935,721.7 928.3,720 921.7,715 915,711.7 906.7,710 911.7,703.3 920,698.3 923.3,690 921.7,681.7 915,676.7 906.7,673.3 900,671.7 898.3,670 896.7,665 900,663.3 901.7,658.3 905,653.3" fill="#FEE391"/>
<polygon points="881.7,676.7 886.7,675 893.3,673.3 898.3,670 900,671.7 906.7,673.3 915,676.7 921.7,681.7 923.3,690 920,698.3 911.7,703.3 906.7,710 896.7,708.3 890,710 886.7,715 880,718.3 873.3,716.7 866.7,718.3 861.7,720 856.7,713.3 850,706.7 845,706.7 843.3,700 848.3,696.7 856.7,695 865,691.7 871.7,688.3 878.3,688.3 881.7,681.7" fill="#FFFACA"/>
<polygon points="936.7,691.7 943.3,690 950,688.3 955,681.7 956.7,675 963.3,673.3 971.7,670 973.3,676.7 971.7,685 970,693.3 965,698.3 960,703.3 953.3,705 948.3,706.7 945,701.7 948.3,696.7 941.7,695" fill="#FEB642"/>
<polygon points="936.7,691.7 943.3,690 950,688.3 955,690 956.7,695 953.3,698.3 948.3,696.7 941.7,695" fill="#FE9929"/>
<polygon points="958.3,716.7 961.7,713.3 966.7,703.3 971.7,708.3 980,711.7 986.7,718.3 988.3,723.3 981.7,726.7 973.3,730 966.7,731.7 961.7,735 960,728.3 960,721.7" fill="#FE9929"/>
<polygon points="866.7,810 871.7,813.3 875,810 883.3,811.7 890,806.7 898.3,805 905,806.7 906.7,815 910,818.3 906.7,825 903.3,831.7 900,836.7 905,836.7 910,838.3 911.7,846.7 916.7,845 921.7,846.7 923.3,846.7 926.7,836.7 933.3,834.2 940.8,840.8 944.2,840 945,833.3 950,827.5 958.3,830 965,828.3 968.3,827.5 966.7,823.3 968.3,813.3 973.3,810 970,808.3 970,800 966.7,793.3 963.3,786.7 965,778.3 1040,778.3 1038.3,785 1030,788.3 1023.3,795 1025,803.3 1023.3,811.7 1020,815 1015,821.7 1011.7,830 1010,838.3 1015,841.7 1020,843.3 1026.7,846.7 1031.7,850 1033.3,858.3 1035,866.7 1038.3,875 1050,880 1050,896.7 900,946.7 871.7,928.3 873.3,923.3 878.3,920 885,918.3 886.7,913.3 893.3,910 895,903.3 898.3,899.2 905,893.3 910,888.3 908.3,881.7 911.7,876.7 915,870 918.3,865 921.7,860 924.2,853.3 921.7,846.7 900,840 883.3,830" fill="#FFFACA"/>
<polygon points="866.7,810 871.7,813.3 875,810 883.3,811.7 890,806.7 898.3,805 905,806.7 906.7,815 910,818.3 906.7,825 903.3,831.7 900,836.7 900,840 893.3,846.7 888.3,855 883.3,853.3 878.3,855 873.3,858.3 866.7,863.3 860,866.7 850,870 848.3,825 855,825 858.3,820 863.3,816.7" fill="#FFFFE5"/>
<polygon points="928.3,811.7 935,808.3 943.3,806.7 948.3,801.7 950,793.3 956.7,798.3 960,805 965,810 970,808.3 973.3,810 968.3,813.3 966.7,823.3 965,828.3 958.3,830 953.3,826.7 948.3,828.3 945,833.3 944.2,840 940.8,840.8 938.3,833.3 933.3,830 930,825 928.3,818.3" fill="#FEB642"/>
<polygon points="948.3,801.7 950,793.3 948.3,786.7 950,778.3 965,778.3 963.3,786.7 966.7,793.3 970,800 970,808.3 965,810 960,805 956.7,798.3" fill="#FECE65"/>
<polygon points="848.3,785 858.3,783.3 866.7,786.7 866.7,793.3 863.3,798.3 861.7,805 866.7,810 863.3,816.7 858.3,820 855,825 848.3,825" fill="#D9D9D9"/>
<polygon points="900,840 905,836.7 910,838.3 911.7,846.7 916.7,845 921.7,846.7 924.2,853.3 921.7,860 918.3,865 913.3,863.3 908.3,866.7 901.7,870 898.3,865 896.7,860 891.7,855 886.7,860 890,870 891.7,880 895,888.3 896.7,895 898.3,899.2 895,903.3 893.3,910 886.7,913.3 885,918.3 878.3,920 873.3,923.3 871.7,928.3 866.7,926.7 858.3,930 855,926.7 848.3,925 848.3,856.7 860,866.7 866.7,863.3 873.3,858.3 878.3,855 883.3,853.3 888.3,855 893.3,846.7" fill="#D9D9D9"/>
<polygon points="871.7,928.3 873.3,923.3 878.3,920 885,918.3 888.3,925 895,930 891.7,935 886.7,936.7 883.3,940 886.7,946.7 890,953.3 891.7,958.3 886.7,960 880,960.8 875,958.3 871.7,951.7 870,943.3 870.8,936.7" fill="#D9D9D9"/>
<polygon points="848.3,901.7 860,899.2 866.7,898.3 873.3,900 873.3,906.7 868.3,910 866.7,916.7 858.3,918.3 848.3,921.7" fill="#FE9929"/>
<polygon points="886.7,860 891.7,855 896.7,860 898.3,865 901.7,870 908.3,866.7 913.3,863.3 915,870 911.7,876.7 908.3,881.7 910,888.3 905,893.3 898.3,899.2 896.7,895 895,888.3 891.7,880 890,870" fill="#FEE391"/>
<polygon points="925,840 933.3,835 940.8,840.8 944.2,840 945,833.3 950,828.3 956.7,830 965,828.3 970,831.7 976.7,830 983.3,831.7 981.7,836.7 976.7,841.7 973.3,846.7 966.7,850 963.3,856.7 965,863.3 960,868.3 953.3,870 946.7,875 943.3,880 940,873.3 935,866.7 930,860 925,853.3 923.3,846.7" fill="#FFFFE5"/>
<polygon points="923.3,908.3 928.3,901.7 935,898.3 941.7,895 948.3,896.7 955,896.7 960,898.3 960,905 958.3,911.7 953.3,915 948.3,918.3 943.3,916.7 936.7,920 931.7,918.3 926.7,913.3" fill="#FFF0AE"/>
<polygon points="948.3,896.7 955,896.7 960,898.3 960,905 958.3,911.7 953.3,915 948.3,918.3 947.5,910" fill="#FECE65"/>
<polygon points="1018.3,883.3 1021.7,878.3 1028.3,874.2 1033.3,875 1030,880 1025,885 1020,887.5" fill="#FECE65"/>
<polygon points="1023.3,795 1030,788.3 1038.3,785 1046.7,778.3 1101.7,778.3 1101.7,800 1095,810 1096.7,823.3 1088.3,828.3 1080,835 1071.7,845 1065,850 1060,853.3 1058.3,848.3 1056.7,841.7 1050,838.3 1051.7,830 1048.3,821.7 1041.7,820 1035,816.7 1028.3,813.3 1023.3,811.7 1025,803.3" fill="#FFF0AE"/>
<polygon points="1033.3,851.7 1038.3,843.3 1045,840 1050,838.3 1056.7,841.7 1058.3,848.3 1060,855 1055,861.7 1050,868.3 1043.3,875 1038.3,876.7 1035,866.7 1033.3,858.3" fill="#FEE391"/>
<polygon points="1070,801.7 1071.7,793.3 1078.3,786.7 1085,781.7 1101.7,778.3 1101.7,795 1093.3,798.3 1083.3,800 1075,803.3" fill="#FECE65"/>
<polygon points="1010,838.3 1011.7,830 1015,821.7 1020,815 1023.3,811.7 1028.3,813.3 1035,816.7 1041.7,820 1048.3,821.7 1051.7,830 1050,836.7 1045,840 1038.3,843.3 1033.3,850 1026.7,846.7 1020,843.3 1015,841.7" fill="#FFFFE5"/>
<polygon points="780,844 785,846 789,848 792,844 793,840 798,838 803,835 809,832 810,828 813,825 816,825 819,829 822,832 825,831 828,835 832,834 836,832 837,828 840,826 844,827 847,830 848,825 852,823 854,820 858,821 863,820 865,815 868,811 870,810 905,810 906,815 911,817 909,821 905,826 903,830 900,835 900,839 903,840 905,836 909,837 911,841 911,845 913,848 917,845 921,846 923,850 925,855 920,859 921,864 917,869 914,872 911,875 909,879 908,884 910,889 908,893 904,896 898,899 895,902 894,907 890,910 887,911 886,916 886,918 880,919 876,921 873,924 872,928 870,940 810,940 790,900 780,887 780,881 782,879 785,878 789,879 792,875 792,869 790,864 787,861 784,862 780,863 780,844" fill="#D9D9D9"/>
<polygon points="778,863 784,862 787,861 790,864 792,869 792,875 789,879 785,878 782,879 778,881" fill="#FFF0AE"/>
<polygon points="803,845 805,840 808,835 810,828 813,825 816,825 819,829 822,832 825,831 828,835 832,834 836,832 837,828 840,826 844,827 847,830 849,835 853,835 857,834 856,839 858,841 855,845 852,849 855,852 850,855 848,859 844,862 842,866 836,869 832,872 827,874 828,870 824,868 819,866 814,863 808,860 807,856 805,851" fill="#FECE65"/>
<polygon points="848,825 852,823 854,820 858,821 863,820 865,815 868,811 870,810 905,810 906,815 911,817 909,821 905,826 903,830 900,835 900,839 901,845 899,850 900,855 895,856 890,854 886,856 881,853 878,856 874,859 870,862 865,865 862,863 858,860 854,857 852,853 852,849 855,845 858,841 856,839 857,834 853,835 849,835 847,830" fill="#FFFFE5"/>
<polygon points="848,825 852,823 854,820 858,821 863,820 865,815 868,811 870,810 874,818 872,825 870,832 869,840 874,844 880,848 881,853 878,856 874,859 870,862 865,865 862,863 858,860 854,857 852,853 852,849 855,845 858,841 856,839 857,834 853,835 849,835 847,830" fill="#FFFACA"/>
<polygon points="832,809 836,815 835,819 839,823 844,825 848,825 852,823 854,820 858,821 863,820 865,815 868,811 866,809" fill="#D9D9D9"/>
<polygon points="818,884 822,883 827,880 829,876 827,874 832,872 836,869 842,866 844,870 848,869 851,872 852,877 856,880 860,884 863,889 866,893 869,897 868,899 864,899 862,902 856,902 850,903 845,905 845,909 840,910 837,908 834,906 833,902 832,897 830,893 825,892 821,890 819,887" fill="#FFFFE5"/>
<polygon points="837,910 840,910 845,909 845,905 850,903 856,902 862,902 864,899 868,899 870,898 874,900 874,906 871,907 868,910 868,917 864,918 860,919 856,920 853,923 851,925 848,924 845,923 843,918 840,916 838,913" fill="#FEB642"/>
<polygon points="821,925 823,921 823,917 825,911 830,910 832,907 834,906 837,908 837,910 838,913 840,916 843,918 845,923 846,926 842,927 839,928 836,929 832,927 828,926 824,927 820,927" fill="#882F05"/>
<polygon points="886,860 889,856 892,857 894,862 896,867 899,870 902,867 906,864 910,861 913,860 914,866 914,872 911,875 909,879 908,884 910,889 908,893 904,896 898,899 895,896 894,891 891,887 890,882 891,878 890,872 888,867" fill="#FEE391"/>
<polygon points="779,809 793,809 794,815 798,822 796,828 791,825 786,826 783,823 779,821" fill="#FECE65"/>
<polygon points="782.7,624 786.7,620 793.3,618.7 800,618.7 806.7,613.3 813.3,613.3 820,616 826.7,614.7 833.3,613.3 840,614.7 848,613.3 853.3,614.7 850.7,620 846.7,624 852,626.7 860,628 866.7,629.3 880,629.3 880,672 877.3,670.7 870.7,668 864,666.7 857.3,661.3 850.7,657.3 844,656 840,653.3 833.3,654.7 826.7,650.7 820,648 814.7,646.7 810.7,642.7 802.7,641.3 796,642.7 789.3,638.7 781.3,640 777.3,637.3 782.7,638.7 786.7,634.7 786.7,628" fill="#F27E1B"/>
<polygon points="988,631 992,632 997,629 998,624 1000,620 1004,620 1007,622 1009,626 1012,630 1016,633 1020,637 1023,640 1026,643 1024,647 1023,652 1025,658 1028,662 1029,667 1030,670 1035,671 1038,674 1036,679 1035,682 1030,683 1026,682 1022,681 1018,684 1014,686 1010,683 1006,680 1002,677 999,674 1000,670 1004,667 1009,665 1011,660 1010,654 1011,648 1007,649 1002,648 998,645 995,642 994,638 990,635" fill="#FE9929"/>
<polygon points="1003,609 1007,608 1012,610 1016,615 1022,615 1027,611 1030,607 1033,608 1034,614 1033,620 1030,625 1029,630 1030,635 1035,639 1038,640 1036,645 1034,650 1035,656 1032,660 1028,662 1025,658 1023,652 1024,647 1026,643 1023,640 1020,637 1016,633 1012,630 1009,626 1007,622 1004,620 1003,615" fill="#E1640E"/>
<polygon points="1023,615 1027,611 1030,607 1033,608 1034,614 1033,620 1036,624 1040,622 1045,623 1050,625 1055,627 1058,630 1056,633 1050,634 1045,636 1040,638 1037,640 1035,639 1030,635 1029,630 1030,625 1027,620" fill="#CC4C02"/>
<polygon points="1037,640 1040,638 1045,636 1050,634 1056,633 1060,632 1063,636 1066,640 1070,641 1072,645 1071,650 1068,655 1066,660 1060,662 1056,663 1055,668 1058,672 1063,673 1068,676 1072,680 1070,684 1066,687 1062,689 1060,685 1055,683 1051,684 1046,685 1042,686 1038,684 1036,679 1038,674 1035,670 1030,667 1029,662 1032,660 1035,656 1034,650 1036,645 1038,640" fill="#F27E1B"/>
<polygon points="1046,680 1050,675 1055,673 1060,672 1063,673 1068,676 1072,680 1070,684 1066,687 1062,689 1060,685 1055,683 1051,684" fill="#E1640E"/>
<polygon points="1056,663 1060,662 1066,660 1068,663 1072,667 1076,670 1077,674 1073,676 1068,676 1063,673 1058,672 1055,668" fill="#FECE65"/>
<polygon points="1037,686 1040,684 1045,685 1050,684 1054,682.5 1058,684 1060,687 1056,690 1052,691 1048,692 1044,693 1040,694 1037.5,691" fill="#AA3C03"/>
<polygon points="1008,691 1010,688 1014,686 1018,684 1022,681 1026,682 1030,683 1035,682 1037,686 1037.5,691 1040,694 1037,697 1034,700 1032,705 1031,709 1026,710 1022,714 1019,715 1015,714 1014,709 1012,704 1010,699 1009,695" fill="#FECE65"/>
<polygon points="966,780 976,776 990,778 1002,782 1008,790 1006,800 998,806 986,808 974,806 968,796" fill="#FFFFE5"/>
<svg x="680" y="630" width="150" height="150" viewBox="680 630 150 150" overflow="hidden">
<polygon points="679,629 831,629 831,781 679,781" fill="#FEE391"/>
<polygon points="679,629 751,629 742,633 744,638 746,643 740,645 741,650 746,654 740,656 737.5,660 742,663 746,665 743,669 739,672 736,675 733,677 732,682 732,687 729,689 725,690 720,690 717,688 713,688 709,690 705,692 702,695 699,692 699,688 701,685 701,682 696,680 691,677 686,675 679,672" fill="#FECE65"/>
<polygon points="679,672 686,675 691,677 696,680 701,682 701,685 699,688 699,692 702,698 700,702 698,708 700,713 699,718 695,722 690,725 686,730 679,732" fill="#FFF0AE"/>
<polygon points="679,732 686,730 690,725 695,722 699,718 700,713 698,708 700,702 702,698 706,698 710,696 715,694 720,694 724,696 723,700 722,706 723,710 719,715 716,720 717,724 718,731 719,737 720,742 724,744 727,746 728,750 730,756 732,760 729,764 726,768 723,772 720,776 718,781 679,781" fill="#FFFACA"/>
<polygon points="723,710 727,707 732,705 737,703 741,702 745,704 750,707 754,708 755,711 754,715 750,718 746,722 745,718 742,715 738,715 734,713 729,715 724,717 720,720 717,724 716,720 719,715" fill="#FFFACA"/>
<polygon points="717,724 720,720 724,717 729,715 734,713 738,715 742,715 745,718 746,722 745,726 748,730 746,734 744,738 740,741 736,744 732,746 728,750 727,746 724,744 720,742 719,737 718,731" fill="#FFFFE5"/>
<polygon points="742,633 750,636 752,640 758,643 760,648 765,650 770,653 771,660 772,666 776,672 779,678 780,683 776,682 772,683 769,686 768,690 768,695 765,697 763,695 760,690 756,688 752,687 748,686 745,682 742,679 740,675 739,672 743,669 746,665 742,663 737.5,660 740,656 746,654 741,650 740,645 746,643 744,638" fill="#FFF0AE"/>
<polygon points="739,672 743,668.5 746,671 750,675 755,677 759,680 761,684 764,688 768,691 769,694 766,697 763,695 760,690 756,688 752,687 748,686 745,682 742,679 740,675" fill="#FFFFE5"/>
<polygon points="776,672 780,670 785,668 790,665 795,665 797,667 802,670 807,672 809,677 808,682 804,687 800,691 793,694 790,698 786,699 784,695 782,690 780,683 779,678" fill="#FEB642"/>
<polygon points="768,686 772,683 776,682 780,683 782,690 784,695 786,699 783,701 779,704 776,708 773,710 769,709 765,707 762,706 759,707 756,708 754,706 757,704 762,702 765,697 768,695 768,690" fill="#FFF0AE"/>
<polygon points="786,700 790,698 793,694 800,691 805,692 810,695 814,698 817,700 814,706 811,710 805,710 803,706 799,704 794,706 790,703" fill="#FFFFE5"/>
<polygon points="786,629 831,629 831,654 826,650 822,647 818,648 813,645 810,642 803,642 796,643 790,639 787,634" fill="#F27E1B"/>
<polygon points="780,701 784,700 788,702 791,704 795,706 799,704 803,706 805,710 811,710 814,706 817,700 820,695 821,690 826,689 831,690 831,732 825,731 820,733 819,738 814,740 810,742 807,746 804,750 801,745 798,740 797,749 795,743 792,739 788,738 784,737 782,732 778,728 774,725 772,722 776,718 780,716 782,712 780,708 778,707" fill="#FFFACA"/>
<polygon points="794,718 796,714 800,711 805,710 809,712 810,717 809,723 808,730 803,732 799,730 796,726 794,722" fill="#FEE391"/>
<polygon points="750,718 754,715 755,711 759,713 762,713 765,711 768,713 772,716 774,720 772,722 774,725 778,728 782,732 784,737 788,738 792,739 795,743 796,750 795,756 796,763 795,768 790,769 786,768 781,770 776,767 772,764 770,759 771,753 770,747 770,740 770,735 768,730 765,726 761,725 757,726 754,723" fill="#FECE65"/>
<polygon points="748,730 752,726 757,726 761,725 765,726 768,730 770,735 766,736 763,734 760,733 757,735 754,734 750,733" fill="#FFF0AE"/>
<polygon points="780,748 784,745 788,742 792,744 795,748 799,750 804,750 807,746 810,742 814,740 819,738 820,733 825,731 831,732 831,781 790,781 790,772 795,768 796,763 795,756 796,750 795,743 792,739 788,738 784,737" fill="#FECE65"/>
</svg>
</g>
<g fill="none" stroke="#666666" stroke-width="1" stroke-linejoin="round" shape-rendering="crispEdges">
<polyline points="183,599.6 192,598 201,597 203,590 206,582 211,578 212,573 220,574 228,575 235,575 240,577 250,575.6 252,571 258,566 266,566 271,567 273,572 284,574 292,573.6 300,573 308,568 320,564 330,566 340,563 350,553.2 372,548 394,546 416,556"/>
<polyline points="416,556 430,552 454,556 452,546 444,544 446,536 458,532 456,526 442,514 440,498 434,498 432,494 442,490 456,487.4 470,484 484,480"/>
<polyline points="484,480 482,476 488,468 490,458 493,450 495,441 504,440 512,438 514,433 520,425 528,419 539,413 545,411 548,414 558,408 566,405 567,400 565,395 566,390 573,385.6"/>
<polyline points="416,556 424,561 423,570 418,575 420,586 426,588 424,593 426,601 421,608 428,617 436,625 445,631 456,631 464,633 472,637 480,641 488,641 498,642.4 508,647 516,646 522,648.4 532,643 539,649 546,651 550,657 551,664 560,667 568,670 570,662 576,666 581,668 582,660 592,658 596,646 600,645.6"/>
<polyline points="590,384.4 594,392 600,404 605,414 600,418.4 606,425 616,432 617,441 622,437 626,439 632,436 636,434 648,432.4 656,433 658.4,438 658,448 653,454 648,457 640,459"/>
<polyline points="484,480 500,479 502,483 513,484 514,487 528,490 530,497 540,497 550,499 556,497 562,500 569,503 578,501 582,493 588,491 585,484 586,477 595,476"/>
<polyline points="1140,113 1143,122 1136,129 1129,134 1136,137 1143,141 1150,137 1158,140 1164,144 1164,154 1167,164 1170,167 1178,168 1186,165 1194,166 1202,167 1210,165 1217,159 1222,159 1228,164 1233,170 1238,174 1234,180 1231,188 1226,194 1221,200 1219,210 1220,219 1216,222 1211,224 1208,232 1205,240 1203,249 1200,242 1198,238 1192,242 1184,248 1176,253 1170,258 1163,263 1157,268 1164,275 1168,282 1174,280 1178,278 1183,280 1183,285 1176,286 1170,288 1170,294 1174,296 1181,295.6 1188,295 1191,300 1193,308 1198,314 1206,317 1214,316 1220,318 1230,316 1236,323 1246,323 1252,322 1260,328 1261,337 1270,342 1276,350 1284,351 1288,342"/>
<polyline points="1093,269 1098,275 1101,280 1100,286"/>
<polyline points="1170,294 1172,296 1166,300 1165,306 1160,308 1156,304 1148,303 1142,302 1140,308 1146,312 1149,320 1150,330 1149,338 1152,346 1158,347 1166,344 1172,340 1178,352 1176,364 1180,368 1184,380"/>
<polyline points="1230,315 1236,322 1246,323 1252,321 1260,328 1261,337 1270,340 1276,350 1284,351 1288,342 1292,344 1294,354 1300,364 1308,365 1310,359 1320,356 1328,354 1334,353 1336,360 1344,365 1350,368 1356,367"/>
<polyline points="1212,374 1214,382 1218,388 1222,392 1220,402 1222,410 1226,420 1230,433"/>
<polyline points="1087,399 1091,395 1096,398 1100,404 1104,412 1112,404 1120,400 1124,398 1132,394 1140,391 1148,387 1158,384 1168,380 1176,379 1180,376 1184,370 1177,366 1180,360 1177,350 1172,341"/>
<polyline points="1184,370 1187,368 1192,372 1200,376 1204,380 1210,374 1212,374 1214,382 1218,388 1222,394 1220,402 1222,410 1226,420 1230,433"/>
<polyline points="1087,399 1088,408 1087,418 1084,422 1080,426 1077,432 1080,436 1088,440 1091,442 1094,448 1098,457"/>
<polyline points="1084,422 1076,421 1066,420 1062,414 1064,406 1062,402 1058,396 1053,389 1046,390 1036,393 1033,394 1032,402 1026,405 1018,404 1012,409 1008,408 1000,410"/>
<polyline points="1006,442 1012,438 1020,434 1026,430 1032,436 1040,438 1046,439 1040,442 1044,448 1046,454 1050,460 1056,466 1054,472 1058,476"/>
<polyline points="1006,442 1010,448 1004,452 1002,460 1006,467 1016,466 1022,466 1031,464 1030,454 1036,454 1040,452 1046,454"/>
<polyline points="1031,464 1032,474 1029,482 1032,488 1040,492 1050,490"/>
<polyline points="805.8,446.7 805,453.3 808.3,460 809.2,470 812.5,476.7 809.2,479.2 807.5,484.2 803.3,488.3 801.7,493.3 799.2,498.3 806.7,501.7 813.3,503.3 820,506.7 826.7,510.8 820,513.3 818.3,518.3 818.3,526.7 816.7,528.3 803.3,530 800,545"/>
<polyline points="826.7,510.8 831.7,513.3 836.7,516.7 843.3,515 850,513.3 851.7,506.7 856.7,505 855,498.3 860,493.3 866.7,486.7 871.7,480 876.7,475 880,470 886.7,471.7 893.3,473.3 898.3,470 903.3,468.3 910.8,464.2"/>
<polyline points="910.8,464.2 916.7,465 921.7,465 923.3,456.7 925.8,451.7 930,448.3 935,449.2 938.3,450.8 943.3,446.7 950,446.7 956.7,445 965,441.7 970,438.3 973.3,440 978.3,446.7 970,448.3 968.3,455 971.7,453.3 976.7,456.7 978.3,463.3"/>
<polyline points="970,438.3 968.3,431.7 964.2,426.7 965,418.3 971.7,413.3 975,406.7 976.7,401.7 983.3,400 987.5,403.3 988.3,413.3 995,414.2 1003.3,410 1010,406.7 1016.7,407.5 1020,405"/>
<polyline points="978.3,463.3 979.2,470 976.7,476.7 970,480 966.7,478.3 963.3,483.3 958.3,491.7 958.3,498.3 963.3,505 968.3,510 970,516.7 966.7,523.3 963.3,530 961.7,536.7 956.7,538.3 960,546.7 960.8,553.3 958.3,561.7 956.7,568.3 951.7,573.3 945,576.7 938.3,578.3"/>
<polyline points="903.3,468.3 905,473.3 901.7,480 900,486.7 898.3,493.3 893.3,498.3 890,503.3 891.7,510 895,516.7 893.3,523.3 890,531.7 888.3,533.3 888.3,543.3 889.2,553.3 890,563.3 888.3,571.7 885,580 883.3,588.3 886.7,593.3"/>
<polyline points="818.3,526.7 821.7,533.3 826.7,535 835,540 841.7,543.3 848.3,546.7 846.7,551.7 848.3,560 845,566.7 846.7,573.3 840,575 833.3,575.8 826.7,576.7"/>
<polyline points="1055.3,500 1051.3,502.7 1047.3,506.7 1044.7,509.3 1036.7,510.7 1030,512 1026,514.7 1022,518.7 1018,514.7 1014,520 1010,525.3 1008.7,530.7 1003.3,538.7 998,542.7 996.7,546.7 999.3,550.7 1002,554.7 999.3,560"/>
<polyline points="970,550.7 978,552 986,554.7 991.3,553.3 1000.7,554.7 999.3,560 1010,557.3 1014,556"/>
<polyline points="999.3,560 994,565.3 990,573.3 986,580 987.3,582.7 991.3,584 995.3,585.3 999.3,589.3 1002,594.7 1010,594.7 1016.7,594.7 1020.7,592 1020.7,586.7 1023.3,585.3 1030,585.3 1034,590.7 1038,597.3 1042,594.7 1047.3,596 1051.3,594.7 1055.3,592 1059.3,593.3 1062,598.7 1066,597.3 1068.7,592 1072.7,588 1076.7,584 1082,581.3 1086,581.3"/>
<polyline points="1016.7,594.7 1020.7,597.3 1023.3,604 1024.7,609.3 1028.7,606.7 1032.7,610.7 1034,613.3 1039.3,614.7 1044.7,616 1050,617.3 1055.3,621.3 1056.7,626.7 1060.7,629.3"/>
<polyline points="1024.7,609.3 1020.7,612 1015.3,613.3 1010,609.3 1004.7,608 1002,612 1003.3,617.3 999.3,621.3 996.7,626.7 990,630.7 987.3,632 990,637.3 991.3,640"/>
<polyline points="883.3,580 883.3,588 884.7,593.3 887.3,598.7 891.3,606.7 894,613.3 900.7,620 900.7,629.3 906,636 911.3,644 915.3,644 920.7,646.7 926,649.3 931.3,650.7 936.7,649.3 944.7,650 951.3,649.3 956.7,652 962,649.3 962,654.7 963.3,660 968.7,664 974,665.3 979.3,666.7 983.3,670.7 990,672 995.3,670.7 998,674.7 1003.3,677.3 1010,681.3 1014,685.3"/>
<polyline points="884.7,593.3 892.7,592.7 899.3,591.3 904.7,589.3 912.7,588 918,585.3 922,582.7 924.7,580"/>
<polyline points="900.7,629.3 894,630.7 887.3,629.3 880.7,631.3 874,629.3 866,630 872.7,632 874,636 880.7,638.7 881.3,642.7 876.7,645.3 870,644 867.3,649.3 868.7,656 867.3,661.3 868.7,666.7"/>
<polyline points="860.7,733.3 863.3,729.3 866,724 870,720 874,716 879.3,716 883.3,717.3 887.3,720 892.7,716 890,713.3 888.7,709.3 892.7,709.3 896.7,706.7 902,709.3 907.3,708 910,710.7 915.3,713.3 920.7,714.7 926,718.7 930,721.3 934,720 939.3,718.7 943.3,717.3 943.3,722.7 947.3,725.3 952.7,720 956.7,716 958,716 962,720 960.7,724 959.3,729.3 962,733.3 966,734.7 970,730.7 975.3,728 980.7,725.3 986,724 988.7,721.3 994,721.3 998,718.7 1003.3,716 1008.7,716 1015.3,714.7 1020.7,714.7 1026,713.3 1030,713.3"/>
<polyline points="1014,685.3 1010,689.3 1007.3,693.3 1010,698.7 1012.7,704 1015.3,709.3 1015.3,714.7"/>
<polyline points="966,734.7 968.7,740 971.3,746.7 972.7,753.3 968.7,757.3 964.7,762.7 960.7,766.7 959.3,773.3 960.7,780"/>
<polyline points="986,580 988.7,584 994,585.3 998,589.3 1000.7,593.3 1007.3,594 1016.7,593.3 1020.7,590.7 1022,586.7 1030,585.3"/>
<polyline points="1003.3,608 1003.3,620 996.7,621.3 995.3,628 990,630.7 987.3,632 990,637.3 995.3,642.7 1002,648 1010,648 1011.3,654.7 1010.7,662.7 1003.3,666.7 999.3,672 998,674.7"/>
<polyline points="1051.3,610 1054,615.3 1060.7,616 1062,616.7 1060.7,623.3 1058,628.7 1062,630 1062,635.3 1064.7,640.7 1070,642 1075.3,639.3 1078,635.3 1082,636.7 1084,642 1080.7,644.7 1075.3,643.3 1071.3,646 1072.7,651.3 1068.7,655.3 1066,660.7 1068.7,666 1074,667.3 1076.7,672.7 1079.3,676.7 1084,678 1087.3,679.3 1092.7,682 1094,686 1091.3,690 1088.7,694 1087.3,698 1086,702 1082,703.3 1078,702 1078,708.7 1076.7,715.3 1072.7,720.7 1067.3,723.3 1062,726"/>
<polyline points="1095.3,682 1100.7,682 1103.3,684.7 1106,687.3 1108.7,690 1112.7,691.3 1114,688.7 1118,684.7 1123.3,682"/>
<polyline points="1123.3,682 1127.3,678 1128.7,674 1131.3,671.3 1135.3,674 1140.7,676.7 1146,680.7 1148,688.7"/>
<polyline points="1123.3,682 1124.7,687.3 1128.7,690 1131.3,693.3"/>
<polyline points="1010,716.7 1015.3,715.3 1020.7,714 1026,712.7 1030,710 1027.3,719.3 1023.3,722"/>
<polyline points="1027.3,719.3 1031.3,721.3 1035.3,718 1038,714 1042,715.3 1046,719.3 1048.7,722 1055.3,722 1059.3,722 1062,726 1059.3,730 1059.3,734 1062,738 1064.7,743.3 1067.3,748.7 1068.7,754 1074,759.3 1076.7,764.7 1078,770 1079.3,775.3 1084.7,776.7 1090,774 1094,771.3 1096.7,776.7 1100.7,779.3 1106,778 1111.3,779.3 1111.3,784.7"/>
<polyline points="1068.7,754 1064.7,756.7 1060.7,760.7 1055.3,762 1051.3,766 1047.3,763.3 1042,764.7 1038,770 1036.7,776.7 1038,783.3 1032.7,787.3 1027.3,788.7 1024.7,794 1026,800.7 1022,806 1022,810"/>
<polyline points="840,658.3 843.3,655 850,656.7 856.7,661.7 863.3,666.7 871.7,670 876.7,671.7 881.7,676.7 881.7,681.7 878.3,688.3 871.7,688.3 865,691.7 856.7,695 848.3,696.7 843.3,700 845,706.7 843.3,715 848.3,718.3 853.3,725 858.3,730 861.7,735 860,741.7 861.7,748.3 863.3,755 863.3,766.7 865.8,771.7"/>
<polyline points="840,658.3 845,666.7 841.7,670 836.7,675 833.3,681.7 830,688.3 823.3,690 821.7,695 816.7,701.7 811.7,708.3 806.7,710 803.3,705 796.7,705 790,703.3 783.3,701.7 778.3,706.7 781.7,710 780,716.7 773.3,721.7 775,726.7 773.3,733.3 778.3,738.3 783.3,743.3 780,750 785,745 790,746.7 796.7,750 803.3,748.3 810,741.7 818.3,740 820,733.3 826.7,733.3 833.3,736.7 836.7,736.7 840,740 843.3,746.7 848.3,751.7 855,756.7 860,753.3 863.3,755"/>
<polyline points="865.8,771.7 860,775 855,778.3 851.7,781.7 856.7,785 863.3,783.3 866.7,786.7 865,795 863.3,803.3 866.7,811.7"/>
<polyline points="780,844 771.7,845 768.3,840 761.7,843.3 755,846.7 756.7,851.7 760,855 770,855 773.3,861.7"/>
<polyline points="958.3,716.7 960,728.3 961.7,735 970,738.3 971.7,746.7 973.3,753.3 968.3,756.7 963.3,760 960,770 961.7,778.3 965,783.3"/>
<polyline points="740,745 750,746.7 751.7,755 755,760 761.7,765 770,760 773.3,766.7 771.7,773.3 765,778.3 756.7,780 750,776.7 745,780 740,776.7"/>
<polyline points="740,800 751.7,796.7 756.7,801.7 758.3,808.3 755,815 751.7,821.7 756.7,828.3 760,833.3 756.7,840 755,846.7"/>
<polyline points="923.3,846.7 926.7,836.7 933.3,834.2 940.8,840.8 944.2,840 945,833.3 950,827.5 958.3,830 965,828.3 968.3,827.5 976.7,830 983.3,831.7 981.7,836.7 976.7,841.7 971.7,846.7 976.7,851.7 983.3,850 991.7,846.7 1000,845 1006.7,850 1008.3,843.3 1010,838.3 1015,841.7 1020,843.3 1026.7,846.7 1031.7,850 1033.3,858.3 1035,866.7 1038.3,875"/>
<polyline points="965,780 963.3,786.7 966.7,793.3 970,800 970,808.3 973.3,810 968.3,813.3 966.7,823.3 968.3,827.5"/>
<polyline points="1010,838.3 1011.7,830 1015,821.7 1020,815 1023.3,811.7 1025,803.3 1023.3,795 1030,788.3 1038.3,785 1040,780"/>
<polyline points="780,844 785,846 789,848 792,844 793,840 798,838 803,835 809,832 810,828 813,825 816,825 819,829 822,832 825,831 828,835 832,834 836,832 837,828 840,826 844,827 847,830 848,825 852,823 854,820 858,821 863,820 865,815 868,811 870,810"/>
<polyline points="905,810 906,815 911,817 909,821 905,826 903,830 900,835 900,839 903,840 905,836 909,837 911,841 911,845 913,848 917,845 921,846 923,850 925,855 920,859 921,864 917,869 914,872 911,875 909,879 908,884 910,889 908,893 904,896 898,899 895,902 894,907 890,910 887,911 886,916 886,918 880,919 876,921 873,924 872,928"/>
<polyline points="780,863 784,862 787,861 790,864 792,869 792,875 789,879 785,878 782,879 780,881"/>
<polyline points="870,810 873,816 876,813 880,811 884,814 887,810"/>
<polyline points="875,810 883.3,811.7 890,806.7 898.3,805 905,806.7 906.7,815"/>
<polyline points="595,476 604,482 611,485 616,480 624,481 632,482 640,490 650,495.3 654,493.3 657.3,497.3 657.3,501.3 664.7,500 671.3,502 674.7,502.7 675.3,506.7 683.3,510 686,513.3 694,515.3 698.7,514 701.3,520 706,524 712,528.7 708.7,532.7 715.3,538.7 711.3,542 716.7,546 719.3,552 720.7,554 718.7,556.7 719.3,560.7 714,563.3 715.3,570 708.7,570.7 704.7,574 707.3,578 702,583.3 696.7,586 696.7,596.7 700.7,602 694,606.7 687.3,603.3 678,600 671.3,600.7 671.3,606 676,610 678.7,615.3 684.7,618 690,620.7 694,630.7 695,630.8 691.7,626.7 688.3,630 683.3,627.5 679.2,630.8 680,640 675,643.3 668.3,645 663.3,640.8 658.3,643.3 654.2,637.5 650,634.2 647.5,640 640,637.5 633.3,632.5 626.7,630 623.3,621.7 620,615 616.7,606.7 608.3,605.8 604.2,603.3 600,609.2 595,612.5 596.7,619.2 603.3,624.2 598.3,628.3 597.5,634.2 594.2,637.5 595.8,643.3 600,645.8 606.7,647.5 613.3,651.7 616.7,658.3 619.2,664.2 623.3,670 627.5,675.8 622.5,679.2 626.7,685 630,691.7 630,700 631.7,710 631.7,720 632.5,731.7 630,731.7 630.8,738.3 626.7,740.8 625,736.7 622.5,738.3 623.3,746.7 621.7,751.7 623.3,756.7 618.3,758.3 615,753.3 612.5,758.3 613.3,765"/>
<polyline points="693.3,629.3 697.3,626.7 694.7,621.3 702.7,618.7 706.7,613.3 702,610.7 709.3,606.7 718.7,602 722.7,606.7 725.3,613.3 732,616 738.7,617.3 745.3,621.3 749.3,626.7 752,632 749.3,636 753.3,640 760,642.7 768,644 773.3,641.3 777.3,637.3 782.7,638.7 786.7,634.7 786.7,628 782.7,624 786.7,620 793.3,618.7 800,618.7 798.7,613.3 797.3,608 801.3,602.7 802.7,598.7 797.3,593.3 800,589.3 800,582 808,582 814.7,585.3 821.3,584.7 829.3,585.3 826.7,577.3 833.3,576 840,575.3 846.7,573.3 845.3,566.7 844,560"/>
<polyline points="786.7,634.7 789.3,638.7 796,642.7 802.7,641.3 810.7,642.7 814.7,646.7 820,648 826.7,650.7 833.3,654.7 840,653.3 844,656 840,658.3"/>
<polyline points="632.5,731.7 633.3,740 635,746.7 638.3,756.7 640,750 643.3,745 646.7,740.8 650,745.8 654.2,751.7 657.5,757.5 654.2,759.2 658.3,765 660.8,768.3 663.3,765.8 668.3,765 671.7,771.7 675,778.3 679.2,785 683.3,791.7 686.7,795 688.3,801.7 693.3,808.3 696.7,811.7 701.7,808.3 706.7,806.7 711.7,805 716.7,804.2 721.7,802.5 720.8,795 718.3,786.7 718.3,778.3 725,775 728.3,770 731.7,765 730.8,760 735,755 738.3,753.3 740,745"/>
<polyline points="740,776.7 735,785 736.7,791.7 738.3,800"/>
<polyline points="773.3,768.3 780,768.3 788.3,768.3 795,765 795,760 788.3,758.3 783.3,755 780,750"/>
<polygon points="59,471 62,476 66,482 64,487 65.6,491 70,493 73,490.6 82,491 88,494.4 89.6,499 89,504 91,510 90,515 95,520 94,524.4 83,526 81,529 83,531.6 90,533 98,533.6 102,538 109,539 114,544 116,551 114,555 119,562 126,560 131,565 136,568 144,571 154,570.6 161,570.6 161,576 164,584 166,592 173,595 178,598 183,599.6 180,605 175,608 176.6,614 176,619 180,625 185,630 187,637 189,644 182,651 178,648 176,643 169,646 171,652 170,656 177,662 175,667 178,671 177,677 182,683 188,686 192,684 198,689 204,695 212,698 220,701 228,705 232,711 237,705 238,700 244,701 252,703 253,709 260,712 266,717 276,722 282,727 286,732 293,728 299,731 301,739 300,739 306,743 312,747 320,746 320,753 326,755 332,753.6 337,760 340,764.4 343,759 348,764 353,760 358,761.6 366,766.4 372,765.6 378,767 384,765 391,763 398,759.6 403,761.6 404,768 402,776 407,782 410,779 409.6,772 413,766 420,758 425,756.4 432,758.4 440,761 447,760.4 454,766 458,761 464,765 465,773 472,775.6 476,778 475.6,784 477,791 486,789.6 496,790 506,789.6 515,787 516,783 526,772.4 536,769 548,763 550,759 560,754.4 566,757 572,757 580,763 588,768 594,765 595,758 598,754 599,749 604,752 610,756 613,760 612,764 616,772 624,773 625.6,784 626,798 625,809 623,812 624,818 618,822 613,827 610,832 603,836 602,846 598,847 599,854 603,860 602,864 598.6,866 601,867.6 608,863 616,861 624,861 627,864 624,866 626,872 629,877 629,884 632,887 639,887 643,889 639,897 640,902 636,908 635,912 646,913.6 653,915 654,922 656,928 664,927 670,925 678,921 680,925 682,930 681,935 686,936 693,937 694,930 693,922 690,917 688,910 691,904.4 698,903 705,902 709,896 716,899 721,903.6 728,895 732,899 737,896 742,902 745,895 750,895 754,892 760,893 762,886 767,885 773,881 778,884 780,889 786,890 792,892.4 800,892 806,894 805,900 801,904 803,910 804,916 810,917 814,922 821,925 830,926 836,928 844,926 851,924 857,928 859,931 868,929 875,930 872,938 871,946 873,952 877,958 876,961 882,960 890,958 892,955 889,949 886,945 883,943 884,938 891,936 892,943 894,932 900,930 906,929 912,927.6 917,925.6 920,927 923,921 928,920 932,922.4 936,924 940,925 942,921 947,919 948,914 951,916 955,914 958,908 960,902 961,898 964,900 965,909 970,910 976,908 977,901 982,900 984,896 989,898 992,894 998,895 1004,898 1009,894 1014,895 1020,892 1025,891 1027,886 1033,881 1038,877 1045,875 1050,870 1055,864 1060,858 1059,853 1066,850 1069,845 1076,842 1080,836 1086,832 1088,828 1095,825 1096,819 1095,810 1100,805 1098,799 1094,797 1102,794 1106,789 1111,785 1114,779 1118,774 1123,767 1128,760 1132,756 1138,752 1140,744 1141,738 1147,734 1148,729 1145,724 1147,718 1144,712 1140,707 1135,702 1128,699 1127,696 1132,693 1140,691 1147,691 1148,685 1147,680 1143,677 1138,675 1132,673 1129,665 1134,664 1140,667 1147,672 1147,666 1144,659 1138,655 1136,649 1130,647 1124,642 1122,634 1119,626 1114,616 1110,606 1106,600 1096,594 1086,588 1085,582 1090,576 1094,570 1100,566 1105,562 1106,557 1110,554 1116,552 1120,547 1126,543 1132,539 1138,537 1144,534 1152,535 1159,533 1160,527 1162,522 1154,521 1150,519 1143,521 1138,518 1132,517 1125,512 1118,513 1109,515 1107,520 1100,522 1096,528 1090,529 1084,526 1079,522 1079,517 1086,515 1085,510 1080,506 1075,502.4 1068,504 1062,503 1057,499 1052,495 1050,490 1053,484 1058,476 1064,479 1069,483 1072,478 1080,477 1085,473 1086,467 1091,460 1098,457 1106,453 1113,450 1118,443 1125,436 1132,434 1140,434.4 1146,438 1152,441 1151,446 1147,451 1144,455 1138,460 1134,465 1130,467 1131,472 1136,473 1139,478 1134,481 1127,483 1128,488 1134,486 1142,482 1148,479 1154,474 1160,470 1168,466 1176,463 1184,461 1196,460 1202,454 1208,449 1216,443 1222,439 1230,433 1236,430 1242,425 1247,419 1250,414 1257,410 1260,412 1264,417 1272,417.6 1280,419 1285,420 1289,415 1285,409 1283,404 1292,404 1303,404 1309,399 1314,394 1320,393 1324,380 1330,381 1333,387 1340,393 1341,389 1337,386 1342,383 1350,382 1354,376 1356,368 1355,360 1356,352 1354,342 1350,332 1356,329 1362,327 1368,320 1376,322 1386,325 1394,327 1397,324 1397,316 1404,312 1406,304 1411,298 1414,292 1416,282 1421,274 1422,266 1428,265 1434,259 1430,253 1433,245 1441,242 1440,240 1430,241.6 1420,241.6 1412,245 1404,247.6 1395,248.6 1387,253 1382,258 1372,259 1362,259.6 1349,259 1346,252 1341,248 1345,243 1340,237 1342,230 1336,229 1328,226 1322,220 1314,215 1308,216 1300,211 1290,210 1280,211 1274,207 1273,205 1271,199 1273,194 1267,190 1266,182 1262,176 1258,173 1259,167 1255,164 1253,158 1248,150 1248,144 1244,141 1243,136 1237,133 1238,129 1232,127 1228,122 1220,119 1212,117.6 1204,117 1197,114 1190,111 1182,109.6 1174,110 1166,111.6 1158,111 1150,112 1140,113 1132,116 1121,117 1115,122 1109,126 1103.6,129.6 1104,134 1112,133 1118,136 1119,142 1120,148 1116,151 1109,155 1104,160 1101,167 1097,172 1092,178 1087,184 1083,190 1087,193 1087,198 1080,201 1073,202 1066,205 1060,209 1053,212 1044,210 1036,207 1029,204.4 1025,211 1020,220 1014,229 1009,238 1008,245 1002.4,248 1004,254 1011,259 1018,255 1026,254 1036,256 1043,260 1048,256 1054,251 1062,251 1070,251.6 1074,256 1082,262 1088,267 1093,270 1098,275 1100,280 1100,286 1088,287 1082,286 1077,283 1071,285 1064,284 1056,287 1050,289 1044,289 1043,293 1032,293 1025,296 1019,302 1018,309 1010,313 1000,317 992,318.4 984,316 979,320 974,326 967,331 959,334.4 948,333 940,332 932,327 922,325.4 916,330 913,337 909.6,343.6 913,349 919,354 922.4,360 916,365 909,368 902,370 898,374 893,380 888,385 881,388 874,389 867,393 859,394 846,393.6 834,393.6 820,393.4 814,395 804,398 794,401 784,405 774,409 769,413.6 765,415 756,413 755.6,408 750,408 739,409 730,406 720,402 712,400 702,399 698,396 693,391 684,390 674,387.6 660,387.6 648,389 636,389.6 624,388.4 608,386.4 590,384.4 574,385.6 572.4,382 568,377 562,374 558,363 554,354 549.6,353 550,347 540,347 530,341 520,335 510,330 500,327.6 490,326.6 480,327.6 474,325.6 464,326.4 458,324 448,322 444,314 447,308 452,302 450,294 453,286 449,278 442,273 440,266 437,260 432,258 430,254 424,255 420,251 414,251 408,251 399,247 397,243 392,239 384,236 386,233 379,229 382,226 380,221 372,222 360,222 355.6,225.6 357,230 355,235 347,239.6 333,241 329,249 330,260 331,273 322,276 316,280 310,276.4 296,277.6 285,275.6 278,272 272.4,271.4 266,286 260,299 257,305 256,314.4 262,318 263,321 261,323 255,322 247,321.4 244,318.4 238,320 227,322.4 214,325 206,327 203,329.6 203.6,332 209,334 213,338 213.6,346 215,353 218,360 221,366 222,375 215,376.6 213.6,378.6 217,382 211,384 208.6,388 209.6,393 211,398 208,402.4 203,403.6 198,407 192,409 184,412 178,416 170,419.4 164,420.6 162,424 157,426 155,429.6 148,430 142,429.4 136,428.6 132,431 130,437 126,444.4 122,445 117,445.6 111,448 108,447 107,441 104,439 100,442 93,443.6 89,443 87,447.6 81,450 75,452.4 69,455 67,460 68,464 67,469"/>
</g>
<g fill="none" stroke="#666666" stroke-width="1.2">
<polyline points="1165,849 1158.5,878.5"/>
<polyline points="1145.5,923 1128.5,946.5"/>
<polyline points="1098.7,1000 1090.1,1017.3"/>
<polyline points="1081.3,1066.7 1081.3,1094.7"/>
<polyline points="1079.5,1170.7 1076,1184 1069.3,1198.7"/>
<polyline points="1018.7,1273.3 1001.3,1294.7"/>
<polyline points="917.3,1389.9 930.7,1386.7 942.7,1381.3"/>
<polyline points="838.7,1296 837.3,1309.3 840,1324"/>
<polyline points="885.3,1164 884,1178.7 879.2,1190.7"/>
<polyline points="862.1,1063.2 870.7,1077.3 874.7,1090.7"/>
</g>
<polygon points="965.3,1283.2 970.7,1278.7 976.5,1274.7 980.3,1274.7 978.1,1279.5 973.3,1283.2 968,1284.8" fill="#FECE65" stroke="#666666" stroke-width="0.8"/>
<polygon points="865.3,1290.1 868.8,1285.9 873.3,1283.7 876.3,1284.8 871.5,1286.9 867.2,1290.7" fill="#FECE65" stroke="#666666" stroke-width="0.8"/>
<polygon points="1144.7,707.3 1148.7,703.3 1152.7,704.7 1155.3,708.7 1156.7,712.7 1154,716.7 1150,715.3 1146,711.3" fill="#F27E1B" stroke="#666666" stroke-width="0.8"/>
<polygon points="1147.3,716.7 1150,716 1152.7,718 1151.3,720 1148.7,719.3" fill="#F27E1B" stroke="#666666" stroke-width="0.8"/>
<polygon points="1093,796 1098,794 1104,791 1108,788 1107,794 1102,799 1096,800" fill="#FFF0AE" stroke="#666666" stroke-width="0.8"/>
<polygon points="1078,834 1082,828 1088,825 1094,821 1099,823 1099,828 1092,830 1086,833 1080,837" fill="#FFF0AE" stroke="#666666" stroke-width="0.8"/>
<polygon points="1058,854 1062,850 1068,849 1071,851 1066,855 1060,857" fill="#FFF0AE" stroke="#666666" stroke-width="0.8"/>
<polygon points="1124.4,764 1127,759 1130,760 1129,765 1126,767" fill="#FFF0AE" stroke="#666666" stroke-width="0.8"/>
<polygon points="964,908 967,903 972,901 977,902 975,907 969,910" fill="#FFFACA" stroke="#666666" stroke-width="0.8"/>
<polygon points="1010,938 1012.4,937 1014,939 1012.4,942 1010.4,941" fill="#FFFACA" stroke="#666666" stroke-width="0.8"/>
<polygon points="1029.6,947 1033,946.4 1034,949.6 1031,951" fill="#FFFACA" stroke="#666666" stroke-width="0.8"/>
<g fill="#666666">
<rect x="910.7" y="1040.5" width="1.5" height="1.5"/>
<rect x="928.5" y="1044" width="1.5" height="1.5"/>
<rect x="928" y="1048.8" width="1.5" height="1.5"/>
<rect x="914.7" y="1056" width="1.5" height="1.5"/>
<rect x="936.5" y="1056" width="1.5" height="1.5"/>
<rect x="923.2" y="1060" width="1.5" height="1.5"/>
<rect x="916" y="1063.5" width="1.5" height="1.5"/>
<rect x="933.3" y="1061.9" width="1.5" height="1.5"/>
<rect x="934.7" y="1067.2" width="1.5" height="1.5"/>
<rect x="918.7" y="1066.7" width="1.5" height="1.5"/>
<rect x="928" y="1076" width="1.5" height="1.5"/>
<rect x="965.3" y="1081.3" width="1.5" height="1.5"/>
<rect x="968" y="1073.3" width="1.5" height="1.5"/>
<rect x="976" y="1067.2" width="1.5" height="1.5"/>
<rect x="985.3" y="1064" width="1.5" height="1.5"/>
<rect x="988" y="1068" width="1.5" height="1.5"/>
<rect x="978.7" y="1078.7" width="1.5" height="1.5"/>
<rect x="1028.8" y="1060" width="1.5" height="1.5"/>
<rect x="1052" y="1090.1" width="1.5" height="1.5"/>
<rect x="999.5" y="1120.8" width="1.5" height="1.5"/>
<rect x="982.7" y="1184" width="1.5" height="1.5"/>
<rect x="1028.8" y="1184" width="1.5" height="1.5"/>
<rect x="984" y="1194.7" width="1.5" height="1.5"/>
<rect x="989.3" y="1198.7" width="1.5" height="1.5"/>
<rect x="979.2" y="1201.3" width="1.5" height="1.5"/>
<rect x="969.6" y="1197.9" width="1.5" height="1.5"/>
<rect x="1041.3" y="1194.7" width="1.5" height="1.5"/>
<rect x="1050.7" y="1196" width="1.5" height="1.5"/>
<rect x="1042.7" y="1204" width="1.5" height="1.5"/>
<rect x="1053.3" y="1201.3" width="1.5" height="1.5"/>
<rect x="1025.3" y="1212" width="1.5" height="1.5"/>
<rect x="1032" y="1209.3" width="1.5" height="1.5"/>
<rect x="1008" y="1209.3" width="1.5" height="1.5"/>
<rect x="996.8" y="1216.5" width="1.5" height="1.5"/>
<rect x="984" y="1213.3" width="1.5" height="1.5"/>
<rect x="973.9" y="1214.7" width="1.5" height="1.5"/>
<rect x="959.5" y="1215.5" width="1.5" height="1.5"/>
<rect x="964" y="1220" width="1.5" height="1.5"/>
<rect x="982.7" y="1221.9" width="1.5" height="1.5"/>
<rect x="1002.7" y="1224" width="1.5" height="1.5"/>
<rect x="1013.9" y="1219.2" width="1.5" height="1.5"/>
<rect x="1024" y="1228" width="1.5" height="1.5"/>
<rect x="1041.3" y="1220" width="1.5" height="1.5"/>
<rect x="1009.3" y="1229.3" width="1.5" height="1.5"/>
<rect x="1000" y="1236.8" width="1.5" height="1.5"/>
<rect x="1011.5" y="1240" width="1.5" height="1.5"/>
<rect x="1022.7" y="1242.7" width="1.5" height="1.5"/>
<rect x="1028.8" y="1245.9" width="1.5" height="1.5"/>
<rect x="1019.2" y="1250.1" width="1.5" height="1.5"/>
<rect x="972" y="1237.9" width="1.5" height="1.5"/>
<rect x="960" y="1242.7" width="1.5" height="1.5"/>
<rect x="960" y="1248" width="1.5" height="1.5"/>
<rect x="966.7" y="1251.2" width="1.5" height="1.5"/>
<rect x="973.3" y="1253.3" width="1.5" height="1.5"/>
<rect x="982.7" y="1250.7" width="1.5" height="1.5"/>
<rect x="934.7" y="1233.9" width="1.5" height="1.5"/>
<rect x="928" y="1250.7" width="1.5" height="1.5"/>
<rect x="936" y="1251.2" width="1.5" height="1.5"/>
<rect x="941.9" y="1250.1" width="1.5" height="1.5"/>
<rect x="916" y="1256.5" width="1.5" height="1.5"/>
<rect x="910.7" y="1258.7" width="1.5" height="1.5"/>
<rect x="890.7" y="1269.3" width="1.5" height="1.5"/>
<rect x="889.3" y="1277.3" width="1.5" height="1.5"/>
<rect x="877.9" y="1276" width="1.5" height="1.5"/>
<rect x="922.1" y="1270.9" width="1.5" height="1.5"/>
<rect x="914.7" y="1276" width="1.5" height="1.5"/>
<rect x="913.3" y="1284" width="1.5" height="1.5"/>
<rect x="944" y="1262.7" width="1.5" height="1.5"/>
<rect x="952" y="1268" width="1.5" height="1.5"/>
<rect x="942.7" y="1276.8" width="1.5" height="1.5"/>
<rect x="966.7" y="1273.3" width="1.5" height="1.5"/>
<rect x="981.3" y="1268" width="1.5" height="1.5"/>
<rect x="988" y="1273.3" width="1.5" height="1.5"/>
<rect x="996" y="1262.7" width="1.5" height="1.5"/>
<rect x="1002.1" y="1260" width="1.5" height="1.5"/>
<rect x="989.9" y="1285.9" width="1.5" height="1.5"/>
<rect x="986.7" y="1292.8" width="1.5" height="1.5"/>
<rect x="958.7" y="1300" width="1.5" height="1.5"/>
<rect x="950.7" y="1316" width="1.5" height="1.5"/>
<rect x="934.7" y="1325.3" width="1.5" height="1.5"/>
<rect x="933.3" y="1333.3" width="1.5" height="1.5"/>
<rect x="937.3" y="1340" width="1.5" height="1.5"/>
<rect x="936" y="1346.7" width="1.5" height="1.5"/>
<rect x="944" y="1348.8" width="1.5" height="1.5"/>
<rect x="923.2" y="1378.1" width="1.5" height="1.5"/>
<rect x="928.5" y="1377.3" width="1.5" height="1.5"/>
<rect x="1092" y="873.5" width="2.5" height="2.5"/>
<rect x="1093.5" y="875" width="2.5" height="2.5"/>
<rect x="1091" y="880" width="2.5" height="2.5"/>
<rect x="1089.5" y="885" width="2.5" height="2.5"/>
<rect x="1135.5" y="899" width="2.5" height="2.5"/>
<rect x="1137" y="914" width="2.5" height="2.5"/>
<rect x="1110.5" y="907" width="2.5" height="2.5"/>
<rect x="1149" y="822.5" width="2.5" height="2.5"/>
<rect x="1150" y="826.5" width="2.5" height="2.5"/>
<rect x="1180" y="819.5" width="2.5" height="2.5"/>
<rect x="1185" y="815" width="2.5" height="2.5"/>
<rect x="1101" y="808" width="2.5" height="2.5"/>
<rect x="1156" y="692" width="2" height="2"/>
<rect x="1159.3" y="693.3" width="2" height="2"/>
<rect x="1165.3" y="692.7" width="2" height="2"/>
<rect x="1154.7" y="696.7" width="2" height="2"/>
<rect x="1155.3" y="700.7" width="2" height="2"/>
<rect x="1144.7" y="750" width="2" height="2"/>
<rect x="1141.3" y="742" width="2" height="2"/>
<rect x="1127.3" y="775.3" width="2" height="2"/>
<rect x="1129.3" y="771.3" width="2" height="2"/>
<rect x="963" y="986.4" width="2" height="2"/>
<rect x="961" y="916" width="2" height="2"/>
<rect x="972" y="915" width="2" height="2"/>
</g>
<polygon points="847,983 852,979 858,974 862,969 869,967 876,966 884,964.4 893,962.4 898,965 901,970 902.4,976 898,980 894,985 892,992 891.6,998 886,1002 880,1006 877,1009.6 872,1013.6 864,1011.6 854,1009 848,1006 847,996 846.4,988" fill="#FECE65" stroke="#666666" stroke-width="1"/>
<polygon points="1137.5,830 1140,833 1143,835 1146,835.5 1147.5,838.5 1145,841 1144,844 1144.5,848 1144.5,852 1142.5,855 1140.5,859 1139.5,864 1138.5,870 1137,876 1135.5,881 1134.5,887 1132.5,890 1132,893 1129,896 1125.5,899 1124,903 1122.5,907 1122,912 1121.5,918 1119,918 1118,915 1117.5,911 1116,907 1114,905 1110,902 1107,899 1106,894 1105,889 1102.5,888 1104,885 1104.5,879 1105,876 1104.5,872 1107,868 1110,863 1113,858 1115.5,853 1117,849.5 1120,846.5 1122.5,844 1123,841 1126,837 1129,835.5 1133,835 1135,831.5" fill="#FEE391" stroke="#666666" stroke-width="1"/>
</svg>
<div id="frame"></div>
<div id="title">C-F10056</div>
<div id="legend-title">相对占比</div>
<div class="sw" style="top:881px;background:#FFFFE5"></div><div class="lb" style="top:883px">0.108% - 0.519%</div>
<div class="sw" style="top:923px;background:#FFFACA"></div><div class="lb" style="top:925px">0.519% - 0.824%</div>
<div class="sw" style="top:965px;background:#FFF0AE"></div><div class="lb" style="top:967px">0.824% - 1.066%</div>
<div class="sw" style="top:1007px;background:#FEE391"></div><div class="lb" style="top:1009px">1.066% - 1.357%</div>
<div class="sw" style="top:1049px;background:#FECE65"></div><div class="lb" style="top:1051px">1.357% - 1.714%</div>
<div class="sw" style="top:1091px;background:#FEB642"></div><div class="lb" style="top:1093px">1.714% - 2.020%</div>
<div class="sw" style="top:1133px;background:#FE9929"></div><div class="lb" style="top:1135px">2.020% - 2.326%</div>
<div class="sw" style="top:1175px;background:#F27E1B"></div><div class="lb" style="top:1177px">2.326% - 2.687%</div>
<div class="sw" style="top:1217px;background:#E1640E"></div><div class="lb" style="top:1219px">2.687% - 3.188%</div>
<div class="sw" style="top:1259px;background:#CC4C02"></div><div class="lb" style="top:1261px">3.188% - 3.680%</div>
<div class="sw" style="top:1301px;background:#AA3C03"></div><div class="lb" style="top:1303px">3.680% - 4.369%</div>
<div class="sw" style="top:1343px;background:#882F05"></div><div class="lb" style="top:1345px">4.369% - 5.607%</div>
<div class="sw" style="top:1385px;background:#662506"></div><div class="lb" style="top:1387px">5.607% - 7.246%</div>
<div id="credit"><span class="cj">作者</span>:O1a<span class="cj">溯源群</span></div>
</body>
</html>
